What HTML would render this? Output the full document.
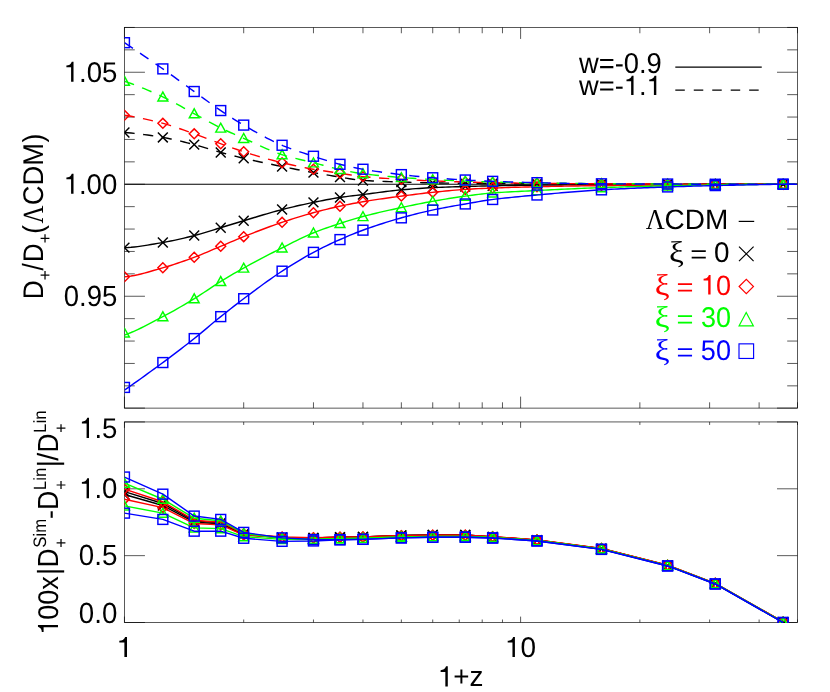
<!DOCTYPE html>
<html><head><meta charset="utf-8"><title>D+ ratio</title>
<style>html,body{margin:0;padding:0;background:#fff}svg{display:block;will-change:transform}text{font-family:"Liberation Sans",sans-serif;fill:#000;font-kerning:none;text-rendering:geometricPrecision}.g{font-family:"Liberation Serif",serif}</style></head><body>
<svg width="830" height="692" viewBox="0 0 830 692">
<rect width="830" height="692" fill="#fff"/>
<defs><clipPath id="ct"><rect x="124.45" y="27.45" width="673.05" height="380.65"/></clipPath><clipPath id="cb"><rect x="124.45" y="421.95" width="673.05" height="201.15"/></clipPath></defs>
<g fill="none">
<line x1="124.45" y1="27.45" x2="124.45" y2="38.95" stroke="#000" stroke-width="0.65" />
<line x1="124.45" y1="408.1" x2="124.45" y2="396.6" stroke="#000" stroke-width="0.65" />
<line x1="124.45" y1="421.95" x2="124.45" y2="427.85" stroke="#000" stroke-width="0.65" />
<line x1="124.45" y1="622.5" x2="124.45" y2="616.6" stroke="#000" stroke-width="0.65" />
<line x1="243.7" y1="27.45" x2="243.7" y2="33.25" stroke="#000" stroke-width="0.65" />
<line x1="243.7" y1="408.1" x2="243.7" y2="402.3" stroke="#000" stroke-width="0.65" />
<line x1="243.7" y1="421.95" x2="243.7" y2="424.95" stroke="#000" stroke-width="0.65" />
<line x1="243.7" y1="622.5" x2="243.7" y2="619.5" stroke="#000" stroke-width="0.65" />
<line x1="313.46" y1="27.45" x2="313.46" y2="33.25" stroke="#000" stroke-width="0.65" />
<line x1="313.46" y1="408.1" x2="313.46" y2="402.3" stroke="#000" stroke-width="0.65" />
<line x1="313.46" y1="421.95" x2="313.46" y2="424.95" stroke="#000" stroke-width="0.65" />
<line x1="313.46" y1="622.5" x2="313.46" y2="619.5" stroke="#000" stroke-width="0.65" />
<line x1="362.96" y1="27.45" x2="362.96" y2="33.25" stroke="#000" stroke-width="0.65" />
<line x1="362.96" y1="408.1" x2="362.96" y2="402.3" stroke="#000" stroke-width="0.65" />
<line x1="362.96" y1="421.95" x2="362.96" y2="424.95" stroke="#000" stroke-width="0.65" />
<line x1="362.96" y1="622.5" x2="362.96" y2="619.5" stroke="#000" stroke-width="0.65" />
<line x1="401.35" y1="27.45" x2="401.35" y2="33.25" stroke="#000" stroke-width="0.65" />
<line x1="401.35" y1="408.1" x2="401.35" y2="402.3" stroke="#000" stroke-width="0.65" />
<line x1="401.35" y1="421.95" x2="401.35" y2="424.95" stroke="#000" stroke-width="0.65" />
<line x1="401.35" y1="622.5" x2="401.35" y2="619.5" stroke="#000" stroke-width="0.65" />
<line x1="432.72" y1="27.45" x2="432.72" y2="33.25" stroke="#000" stroke-width="0.65" />
<line x1="432.72" y1="408.1" x2="432.72" y2="402.3" stroke="#000" stroke-width="0.65" />
<line x1="432.72" y1="421.95" x2="432.72" y2="424.95" stroke="#000" stroke-width="0.65" />
<line x1="432.72" y1="622.5" x2="432.72" y2="619.5" stroke="#000" stroke-width="0.65" />
<line x1="459.24" y1="27.45" x2="459.24" y2="33.25" stroke="#000" stroke-width="0.65" />
<line x1="459.24" y1="408.1" x2="459.24" y2="402.3" stroke="#000" stroke-width="0.65" />
<line x1="459.24" y1="421.95" x2="459.24" y2="424.95" stroke="#000" stroke-width="0.65" />
<line x1="459.24" y1="622.5" x2="459.24" y2="619.5" stroke="#000" stroke-width="0.65" />
<line x1="482.21" y1="27.45" x2="482.21" y2="33.25" stroke="#000" stroke-width="0.65" />
<line x1="482.21" y1="408.1" x2="482.21" y2="402.3" stroke="#000" stroke-width="0.65" />
<line x1="482.21" y1="421.95" x2="482.21" y2="424.95" stroke="#000" stroke-width="0.65" />
<line x1="482.21" y1="622.5" x2="482.21" y2="619.5" stroke="#000" stroke-width="0.65" />
<line x1="502.47" y1="27.45" x2="502.47" y2="33.25" stroke="#000" stroke-width="0.65" />
<line x1="502.47" y1="408.1" x2="502.47" y2="402.3" stroke="#000" stroke-width="0.65" />
<line x1="502.47" y1="421.95" x2="502.47" y2="424.95" stroke="#000" stroke-width="0.65" />
<line x1="502.47" y1="622.5" x2="502.47" y2="619.5" stroke="#000" stroke-width="0.65" />
<line x1="520.6" y1="27.45" x2="520.6" y2="38.95" stroke="#000" stroke-width="0.65" />
<line x1="520.6" y1="408.1" x2="520.6" y2="396.6" stroke="#000" stroke-width="0.65" />
<line x1="520.6" y1="421.95" x2="520.6" y2="427.85" stroke="#000" stroke-width="0.65" />
<line x1="520.6" y1="622.5" x2="520.6" y2="616.6" stroke="#000" stroke-width="0.65" />
<line x1="639.86" y1="27.45" x2="639.86" y2="33.25" stroke="#000" stroke-width="0.65" />
<line x1="639.86" y1="408.1" x2="639.86" y2="402.3" stroke="#000" stroke-width="0.65" />
<line x1="639.86" y1="421.95" x2="639.86" y2="424.95" stroke="#000" stroke-width="0.65" />
<line x1="639.86" y1="622.5" x2="639.86" y2="619.5" stroke="#000" stroke-width="0.65" />
<line x1="709.61" y1="27.45" x2="709.61" y2="33.25" stroke="#000" stroke-width="0.65" />
<line x1="709.61" y1="408.1" x2="709.61" y2="402.3" stroke="#000" stroke-width="0.65" />
<line x1="709.61" y1="421.95" x2="709.61" y2="424.95" stroke="#000" stroke-width="0.65" />
<line x1="709.61" y1="622.5" x2="709.61" y2="619.5" stroke="#000" stroke-width="0.65" />
<line x1="759.11" y1="27.45" x2="759.11" y2="33.25" stroke="#000" stroke-width="0.65" />
<line x1="759.11" y1="408.1" x2="759.11" y2="402.3" stroke="#000" stroke-width="0.65" />
<line x1="759.11" y1="421.95" x2="759.11" y2="424.95" stroke="#000" stroke-width="0.65" />
<line x1="759.11" y1="622.5" x2="759.11" y2="619.5" stroke="#000" stroke-width="0.65" />
<line x1="797.5" y1="27.45" x2="797.5" y2="33.25" stroke="#000" stroke-width="0.65" />
<line x1="797.5" y1="408.1" x2="797.5" y2="402.3" stroke="#000" stroke-width="0.65" />
<line x1="797.5" y1="421.95" x2="797.5" y2="424.95" stroke="#000" stroke-width="0.65" />
<line x1="797.5" y1="622.5" x2="797.5" y2="619.5" stroke="#000" stroke-width="0.65" />
<line x1="124.45" y1="408.1" x2="144.95" y2="408.1" stroke="#000" stroke-width="0.65" />
<line x1="797.5" y1="408.1" x2="777" y2="408.1" stroke="#000" stroke-width="0.65" />
<line x1="124.45" y1="385.85" x2="134.75" y2="385.85" stroke="#000" stroke-width="0.65" />
<line x1="797.5" y1="385.85" x2="787.2" y2="385.85" stroke="#000" stroke-width="0.65" />
<line x1="124.45" y1="363.45" x2="134.75" y2="363.45" stroke="#000" stroke-width="0.65" />
<line x1="797.5" y1="363.45" x2="787.2" y2="363.45" stroke="#000" stroke-width="0.65" />
<line x1="124.45" y1="341.05" x2="134.75" y2="341.05" stroke="#000" stroke-width="0.65" />
<line x1="797.5" y1="341.05" x2="787.2" y2="341.05" stroke="#000" stroke-width="0.65" />
<line x1="124.45" y1="318.65" x2="134.75" y2="318.65" stroke="#000" stroke-width="0.65" />
<line x1="797.5" y1="318.65" x2="787.2" y2="318.65" stroke="#000" stroke-width="0.65" />
<line x1="124.45" y1="296.25" x2="144.95" y2="296.25" stroke="#000" stroke-width="0.65" />
<line x1="797.5" y1="296.25" x2="777" y2="296.25" stroke="#000" stroke-width="0.65" />
<line x1="124.45" y1="273.85" x2="134.75" y2="273.85" stroke="#000" stroke-width="0.65" />
<line x1="797.5" y1="273.85" x2="787.2" y2="273.85" stroke="#000" stroke-width="0.65" />
<line x1="124.45" y1="251.45" x2="134.75" y2="251.45" stroke="#000" stroke-width="0.65" />
<line x1="797.5" y1="251.45" x2="787.2" y2="251.45" stroke="#000" stroke-width="0.65" />
<line x1="124.45" y1="229.05" x2="134.75" y2="229.05" stroke="#000" stroke-width="0.65" />
<line x1="797.5" y1="229.05" x2="787.2" y2="229.05" stroke="#000" stroke-width="0.65" />
<line x1="124.45" y1="206.65" x2="134.75" y2="206.65" stroke="#000" stroke-width="0.65" />
<line x1="797.5" y1="206.65" x2="787.2" y2="206.65" stroke="#000" stroke-width="0.65" />
<line x1="124.45" y1="184.25" x2="144.95" y2="184.25" stroke="#000" stroke-width="0.65" />
<line x1="797.5" y1="184.25" x2="777" y2="184.25" stroke="#000" stroke-width="0.65" />
<line x1="124.45" y1="161.85" x2="134.75" y2="161.85" stroke="#000" stroke-width="0.65" />
<line x1="797.5" y1="161.85" x2="787.2" y2="161.85" stroke="#000" stroke-width="0.65" />
<line x1="124.45" y1="139.45" x2="134.75" y2="139.45" stroke="#000" stroke-width="0.65" />
<line x1="797.5" y1="139.45" x2="787.2" y2="139.45" stroke="#000" stroke-width="0.65" />
<line x1="124.45" y1="117.05" x2="134.75" y2="117.05" stroke="#000" stroke-width="0.65" />
<line x1="797.5" y1="117.05" x2="787.2" y2="117.05" stroke="#000" stroke-width="0.65" />
<line x1="124.45" y1="94.65" x2="134.75" y2="94.65" stroke="#000" stroke-width="0.65" />
<line x1="797.5" y1="94.65" x2="787.2" y2="94.65" stroke="#000" stroke-width="0.65" />
<line x1="124.45" y1="72.25" x2="144.95" y2="72.25" stroke="#000" stroke-width="0.65" />
<line x1="797.5" y1="72.25" x2="777" y2="72.25" stroke="#000" stroke-width="0.65" />
<line x1="124.45" y1="49.85" x2="134.75" y2="49.85" stroke="#000" stroke-width="0.65" />
<line x1="797.5" y1="49.85" x2="787.2" y2="49.85" stroke="#000" stroke-width="0.65" />
<line x1="124.45" y1="27.45" x2="134.75" y2="27.45" stroke="#000" stroke-width="0.65" />
<line x1="797.5" y1="27.45" x2="787.2" y2="27.45" stroke="#000" stroke-width="0.65" />
<line x1="124.45" y1="622.5" x2="144.95" y2="622.5" stroke="#000" stroke-width="0.65" />
<line x1="797.5" y1="622.5" x2="777" y2="622.5" stroke="#000" stroke-width="0.65" />
<line x1="124.45" y1="555.65" x2="144.95" y2="555.65" stroke="#000" stroke-width="0.65" />
<line x1="797.5" y1="555.65" x2="777" y2="555.65" stroke="#000" stroke-width="0.65" />
<line x1="124.45" y1="488.8" x2="144.95" y2="488.8" stroke="#000" stroke-width="0.65" />
<line x1="797.5" y1="488.8" x2="777" y2="488.8" stroke="#000" stroke-width="0.65" />
<line x1="124.45" y1="421.95" x2="144.95" y2="421.95" stroke="#000" stroke-width="0.65" />
<line x1="797.5" y1="421.95" x2="777" y2="421.95" stroke="#000" stroke-width="0.65" />
</g>
<rect x="124.45" y="27.45" width="673.05" height="380.65" fill="none" stroke="#000" stroke-width="0.65"/>
<rect x="124.45" y="421.95" width="673.05" height="200.55" fill="none" stroke="#000" stroke-width="0.65"/>
<g clip-path="url(#ct)" fill="none">
<line x1="124.45" y1="184.25" x2="797.5" y2="184.25" stroke="#000000" stroke-width="1.15" />
<path d="M124.45 247.64L127.76 247.52L131.07 247.3L134.38 246.99L137.69 246.61L141 246.16L144.31 245.67L147.62 245.13L150.93 244.57L154.24 243.99L157.55 243.41L160.86 242.83L164.17 242.26L167.48 241.66L170.79 241.01L174.1 240.33L177.41 239.6L180.72 238.85L184.03 238.07L187.34 237.27L190.65 236.44L193.96 235.61L197.27 234.74L200.58 233.82L203.89 232.85L207.2 231.86L210.51 230.84L213.82 229.82L217.13 228.8L220.44 227.79L223.75 226.8L227.06 225.8L230.37 224.79L233.68 223.78L236.99 222.78L240.3 221.78L243.61 220.79L246.92 219.8L250.23 218.8L253.54 217.79L256.85 216.79L260.16 215.78L263.47 214.79L266.78 213.81L270.09 212.84L273.4 211.9L276.71 210.98L280.02 210.1L283.33 209.25L286.64 208.42L289.95 207.61L293.26 206.82L296.57 206.05L299.88 205.3L303.19 204.57L306.5 203.85L309.81 203.15L313.12 202.46L316.43 201.79L319.74 201.12L323.05 200.46L326.36 199.82L329.67 199.2L332.98 198.61L336.29 198.05L339.6 197.52L342.91 197.04L346.22 196.6L349.53 196.17L352.85 195.77L356.16 195.38L359.47 194.98L362.78 194.58L366.09 194.16L369.4 193.73L372.71 193.29L376.02 192.84L379.33 192.4L382.64 191.97L385.95 191.55L389.26 191.14L392.57 190.75L395.88 190.39L399.19 190.05L402.5 189.75L405.81 189.46L409.12 189.18L412.43 188.91L415.74 188.66L419.05 188.42L422.36 188.19L425.67 187.99L428.98 187.8L432.29 187.63L435.6 187.48L438.91 187.34L442.22 187.21L445.53 187.09L448.84 186.98L452.15 186.88L455.46 186.77L458.77 186.68L462.08 186.58L465.39 186.49L468.7 186.39L472.01 186.3L475.32 186.21L478.63 186.13L481.94 186.05L485.25 185.97L488.56 185.9L491.87 185.83L495.18 185.77L498.49 185.71L501.8 185.65L505.11 185.59L508.42 185.53L511.73 185.48L515.04 185.43L518.35 185.38L521.66 185.33L524.97 185.28L528.28 185.24L531.59 185.2L534.9 185.17L538.21 185.13L541.52 185.1L544.83 185.07L548.14 185.04L551.45 185.02L554.76 184.99L558.07 184.96L561.38 184.94L564.69 184.91L568 184.89L571.31 184.87L574.62 184.84L577.93 184.82L581.24 184.8L584.55 184.78L587.86 184.77L591.17 184.75L594.48 184.73L597.79 184.72L601.1 184.7L604.41 184.68L607.72 184.67L611.03 184.66L614.34 184.65L617.65 184.63L620.96 184.62L624.27 184.61L627.58 184.6L630.89 184.59L634.2 184.58L637.51 184.57L640.82 184.56L644.13 184.55L647.44 184.54L650.75 184.53L654.06 184.52L657.37 184.51L660.68 184.5L663.99 184.49L667.3 184.48L670.61 184.46L673.92 184.44L677.23 184.43L680.54 184.41L683.85 184.39L687.16 184.36L690.47 184.34L693.78 184.32L697.09 184.31L700.4 184.29L703.71 184.27L707.02 184.26L710.33 184.25L713.64 184.25L716.95 184.25L720.26 184.25L723.57 184.25L726.88 184.25L730.19 184.25L733.5 184.25L736.81 184.25L740.12 184.25L743.43 184.25L746.74 184.25L750.05 184.25L753.36 184.25L756.67 184.25L759.98 184.25L763.29 184.25L766.6 184.25L769.91 184.25L773.22 184.25L776.53 184.25L779.84 184.25L783.15 184.25L797.5 184.25" stroke="#000000" stroke-width="1.42"/>
<path d="M119.5 242.69L129.4 252.59M119.5 252.59L129.4 242.69" fill="none" stroke="#000000" stroke-width="1.45"/>
<path d="M157.89 237.54L167.79 247.44M157.89 247.44L167.79 237.54" fill="none" stroke="#000000" stroke-width="1.45"/>
<path d="M189.26 230.6L199.16 240.5M189.26 240.5L199.16 230.6" fill="none" stroke="#000000" stroke-width="1.45"/>
<path d="M215.78 222.76L225.68 232.66M215.78 232.66L225.68 222.76" fill="none" stroke="#000000" stroke-width="1.45"/>
<path d="M238.75 215.81L248.65 225.71M238.75 225.71L248.65 215.81" fill="none" stroke="#000000" stroke-width="1.45"/>
<path d="M277.14 204.61L287.04 214.51M277.14 214.51L287.04 204.61" fill="none" stroke="#000000" stroke-width="1.45"/>
<path d="M308.51 197.44L318.41 207.34M308.51 207.34L318.41 197.44" fill="none" stroke="#000000" stroke-width="1.45"/>
<path d="M335.03 192.52L344.93 202.42M335.03 202.42L344.93 192.52" fill="none" stroke="#000000" stroke-width="1.45"/>
<path d="M358.01 189.6L367.91 199.5M358.01 199.5L367.91 189.6" fill="none" stroke="#000000" stroke-width="1.45"/>
<path d="M396.4 184.9L406.3 194.8M396.4 194.8L406.3 184.9" fill="none" stroke="#000000" stroke-width="1.45"/>
<path d="M427.77 182.66L437.67 192.56M427.77 192.56L437.67 182.66" fill="none" stroke="#000000" stroke-width="1.45"/>
<path d="M460.32 181.54L470.22 191.44M460.32 191.44L470.22 181.54" fill="none" stroke="#000000" stroke-width="1.45"/>
<path d="M487.69 180.87L497.59 190.77M487.69 190.77L497.59 180.87" fill="none" stroke="#000000" stroke-width="1.45"/>
<path d="M532.05 180.2L541.95 190.1M532.05 190.1L541.95 180.2" fill="none" stroke="#000000" stroke-width="1.45"/>
<path d="M596.51 179.75L606.41 189.65M596.51 189.65L606.41 179.75" fill="none" stroke="#000000" stroke-width="1.45"/>
<path d="M662.65 179.52L672.55 189.42M662.65 189.42L672.55 179.52" fill="none" stroke="#000000" stroke-width="1.45"/>
<path d="M710.31 179.3L720.21 189.2M710.31 189.2L720.21 179.3" fill="none" stroke="#000000" stroke-width="1.45"/>
<path d="M778.2 179.3L788.1 189.2M778.2 189.2L788.1 179.3" fill="none" stroke="#000000" stroke-width="1.45"/>
<path d="M124.45 132.51L127.76 132.77L131.07 133.07L134.38 133.41L137.69 133.78L141 134.18L144.31 134.61L147.62 135.07L150.93 135.55L154.24 136.05L157.55 136.57L160.86 137.11L164.17 137.66L167.48 138.27L170.79 138.93L174.1 139.64L177.41 140.39L180.72 141.18L184.03 142L187.34 142.83L190.65 143.68L193.96 144.54L197.27 145.43L200.58 146.38L203.89 147.37L207.2 148.39L210.51 149.42L213.82 150.44L217.13 151.43L220.44 152.36L223.75 153.26L227.06 154.13L230.37 154.99L233.68 155.83L236.99 156.65L240.3 157.46L243.61 158.24L246.92 159.02L250.23 159.77L253.54 160.52L256.85 161.25L260.16 161.97L263.47 162.68L266.78 163.39L270.09 164.08L273.4 164.77L276.71 165.45L280.02 166.13L283.33 166.81L286.64 167.47L289.95 168.13L293.26 168.79L296.57 169.44L299.88 170.08L303.19 170.71L306.5 171.33L309.81 171.94L313.12 172.54L316.43 173.13L319.74 173.72L323.05 174.29L326.36 174.86L329.67 175.41L332.98 175.96L336.29 176.5L339.6 177.02L342.91 177.56L346.22 178.13L349.53 178.7L352.85 179.24L356.16 179.73L359.47 180.13L362.78 180.43L366.09 180.64L369.4 180.83L372.71 181L376.02 181.15L379.33 181.28L382.64 181.4L385.95 181.52L389.26 181.63L392.57 181.73L395.88 181.83L399.19 181.94L402.5 182.05L405.81 182.16L409.12 182.27L412.43 182.37L415.74 182.48L419.05 182.58L422.36 182.67L425.67 182.75L428.98 182.83L432.29 182.9L435.6 182.96L438.91 183.01L442.22 183.07L445.53 183.12L448.84 183.16L452.15 183.21L455.46 183.25L458.77 183.28L462.08 183.32L465.39 183.36L468.7 183.39L472.01 183.42L475.32 183.45L478.63 183.48L481.94 183.5L485.25 183.53L488.56 183.55L491.87 183.57L495.18 183.59L498.49 183.61L501.8 183.63L505.11 183.65L508.42 183.67L511.73 183.69L515.04 183.7L518.35 183.72L521.66 183.73L524.97 183.75L528.28 183.76L531.59 183.78L534.9 183.79L538.21 183.81L541.52 183.82L544.83 183.83L548.14 183.85L551.45 183.86L554.76 183.87L558.07 183.88L561.38 183.89L564.69 183.9L568 183.92L571.31 183.93L574.62 183.94L577.93 183.95L581.24 183.96L584.55 183.97L587.86 183.98L591.17 183.99L594.48 184L597.79 184.01L601.1 184.02L604.41 184.04L607.72 184.05L611.03 184.06L614.34 184.08L617.65 184.09L620.96 184.11L624.27 184.12L627.58 184.14L630.89 184.15L634.2 184.16L637.51 184.18L640.82 184.19L644.13 184.2L647.44 184.21L650.75 184.22L654.06 184.23L657.37 184.24L660.68 184.25L663.99 184.25L667.3 184.25L670.61 184.25L673.92 184.25L677.23 184.25L680.54 184.25L683.85 184.25L687.16 184.25L690.47 184.25L693.78 184.25L697.09 184.25L700.4 184.25L703.71 184.25L707.02 184.25L710.33 184.25L713.64 184.25L716.95 184.25L720.26 184.25L723.57 184.25L726.88 184.25L730.19 184.25L733.5 184.25L736.81 184.25L740.12 184.25L743.43 184.25L746.74 184.25L750.05 184.25L753.36 184.25L756.67 184.25L759.98 184.25L763.29 184.25L766.6 184.25L769.91 184.25L773.22 184.25L776.53 184.25L779.84 184.25L783.15 184.25L797.5 184.25" stroke="#000000" stroke-width="1.42" stroke-dasharray="10.2 8.6"/>
<path d="M119.5 127.56L129.4 137.46M119.5 137.46L129.4 127.56" fill="none" stroke="#000000" stroke-width="1.45"/>
<path d="M157.89 132.48L167.79 142.38M157.89 142.38L167.79 132.48" fill="none" stroke="#000000" stroke-width="1.45"/>
<path d="M189.26 139.65L199.16 149.55M189.26 149.55L199.16 139.65" fill="none" stroke="#000000" stroke-width="1.45"/>
<path d="M215.78 147.49L225.68 157.39M215.78 157.39L225.68 147.49" fill="none" stroke="#000000" stroke-width="1.45"/>
<path d="M238.75 153.32L248.65 163.22M238.75 163.22L248.65 153.32" fill="none" stroke="#000000" stroke-width="1.45"/>
<path d="M277.14 161.6L287.04 171.5M277.14 171.5L287.04 161.6" fill="none" stroke="#000000" stroke-width="1.45"/>
<path d="M308.51 167.65L318.41 177.55M308.51 177.55L318.41 167.65" fill="none" stroke="#000000" stroke-width="1.45"/>
<path d="M335.03 172.13L344.93 182.03M335.03 182.03L344.93 172.13" fill="none" stroke="#000000" stroke-width="1.45"/>
<path d="M358.01 175.49L367.91 185.39M358.01 185.39L367.91 175.49" fill="none" stroke="#000000" stroke-width="1.45"/>
<path d="M396.4 177.06L406.3 186.96M396.4 186.96L406.3 177.06" fill="none" stroke="#000000" stroke-width="1.45"/>
<path d="M427.77 177.96L437.67 187.86M427.77 187.86L437.67 177.96" fill="none" stroke="#000000" stroke-width="1.45"/>
<path d="M460.32 178.4L470.22 188.3M460.32 188.3L470.22 178.4" fill="none" stroke="#000000" stroke-width="1.45"/>
<path d="M487.69 178.63L497.59 188.53M487.69 188.53L497.59 178.63" fill="none" stroke="#000000" stroke-width="1.45"/>
<path d="M532.05 178.85L541.95 188.75M532.05 188.75L541.95 178.85" fill="none" stroke="#000000" stroke-width="1.45"/>
<path d="M596.51 179.08L606.41 188.98M596.51 188.98L606.41 179.08" fill="none" stroke="#000000" stroke-width="1.45"/>
<path d="M662.65 179.3L672.55 189.2M662.65 189.2L672.55 179.3" fill="none" stroke="#000000" stroke-width="1.45"/>
<path d="M710.31 179.3L720.21 189.2M710.31 189.2L720.21 179.3" fill="none" stroke="#000000" stroke-width="1.45"/>
<path d="M778.2 179.3L788.1 189.2M778.2 189.2L788.1 179.3" fill="none" stroke="#000000" stroke-width="1.45"/>
<path d="M124.45 276.76L127.76 276.47L131.07 276.04L134.38 275.46L137.69 274.78L141 273.99L144.31 273.14L147.62 272.22L150.93 271.27L154.24 270.29L157.55 269.32L160.86 268.36L164.17 267.43L167.48 266.46L170.79 265.45L174.1 264.39L177.41 263.29L180.72 262.15L184.03 260.99L187.34 259.8L190.65 258.59L193.96 257.37L197.27 256.11L200.58 254.79L203.89 253.44L207.2 252.05L210.51 250.64L213.82 249.22L217.13 247.81L220.44 246.42L223.75 245.03L227.06 243.62L230.37 242.21L233.68 240.8L236.99 239.41L240.3 238.04L243.61 236.7L246.92 235.39L250.23 234.09L253.54 232.79L256.85 231.51L260.16 230.24L263.47 228.99L266.78 227.75L270.09 226.54L273.4 225.34L276.71 224.17L280.02 223.03L283.33 221.91L286.64 220.82L289.95 219.74L293.26 218.68L296.57 217.64L299.88 216.62L303.19 215.62L306.5 214.65L309.81 213.71L313.12 212.79L316.43 211.9L319.74 211.03L323.05 210.18L326.36 209.36L329.67 208.55L332.98 207.77L336.29 207.02L339.6 206.28L342.91 205.57L346.22 204.88L349.53 204.21L352.85 203.56L356.16 202.93L359.47 202.33L362.78 201.75L366.09 201.2L369.4 200.67L372.71 200.15L376.02 199.65L379.33 199.16L382.64 198.68L385.95 198.21L389.26 197.75L392.57 197.3L395.88 196.85L399.19 196.41L402.5 195.97L405.81 195.54L409.12 195.11L412.43 194.68L415.74 194.26L419.05 193.86L422.36 193.46L425.67 193.08L428.98 192.71L432.29 192.36L435.6 192.02L438.91 191.68L442.22 191.35L445.53 191.02L448.84 190.71L452.15 190.41L455.46 190.12L458.77 189.86L462.08 189.62L465.39 189.39L468.7 189.19L472.01 189L475.32 188.83L478.63 188.66L481.94 188.51L485.25 188.36L488.56 188.22L491.87 188.09L495.18 187.96L498.49 187.84L501.8 187.72L505.11 187.61L508.42 187.5L511.73 187.39L515.04 187.29L518.35 187.19L521.66 187.1L524.97 187.01L528.28 186.92L531.59 186.84L534.9 186.76L538.21 186.69L541.52 186.61L544.83 186.54L548.14 186.47L551.45 186.41L554.76 186.34L558.07 186.28L561.38 186.22L564.69 186.16L568 186.1L571.31 186.04L574.62 185.99L577.93 185.93L581.24 185.88L584.55 185.83L587.86 185.78L591.17 185.73L594.48 185.69L597.79 185.64L601.1 185.6L604.41 185.56L607.72 185.52L611.03 185.48L614.34 185.44L617.65 185.4L620.96 185.37L624.27 185.33L627.58 185.3L630.89 185.27L634.2 185.24L637.51 185.2L640.82 185.17L644.13 185.14L647.44 185.11L650.75 185.08L654.06 185.05L657.37 185.02L660.68 184.99L663.99 184.96L667.3 184.92L670.61 184.89L673.92 184.86L677.23 184.82L680.54 184.79L683.85 184.75L687.16 184.72L690.47 184.68L693.78 184.65L697.09 184.61L700.4 184.58L703.71 184.55L707.02 184.53L710.33 184.5L713.64 184.48L716.95 184.47L720.26 184.45L723.57 184.43L726.88 184.42L730.19 184.4L733.5 184.39L736.81 184.37L740.12 184.36L743.43 184.34L746.74 184.33L750.05 184.32L753.36 184.3L756.67 184.29L759.98 184.28L763.29 184.28L766.6 184.27L769.91 184.26L773.22 184.26L776.53 184.25L779.84 184.25L783.15 184.25L797.5 184.25" stroke="#ff0000" stroke-width="1.42"/>
<path d="M119.5 276.76L124.45 271.81L129.4 276.76L124.45 281.71Z" fill="none" stroke="#ff0000" stroke-width="1.45"/>
<path d="M157.89 267.8L162.84 262.85L167.79 267.8L162.84 272.75Z" fill="none" stroke="#ff0000" stroke-width="1.45"/>
<path d="M189.26 257.27L194.21 252.32L199.16 257.27L194.21 262.22Z" fill="none" stroke="#ff0000" stroke-width="1.45"/>
<path d="M215.78 246.3L220.73 241.35L225.68 246.3L220.73 251.25Z" fill="none" stroke="#ff0000" stroke-width="1.45"/>
<path d="M238.75 236.67L243.7 231.72L248.65 236.67L243.7 241.62Z" fill="none" stroke="#ff0000" stroke-width="1.45"/>
<path d="M277.14 222.33L282.09 217.38L287.04 222.33L282.09 227.28Z" fill="none" stroke="#ff0000" stroke-width="1.45"/>
<path d="M308.51 212.7L313.46 207.75L318.41 212.7L313.46 217.65Z" fill="none" stroke="#ff0000" stroke-width="1.45"/>
<path d="M335.03 206.2L339.98 201.25L344.93 206.2L339.98 211.15Z" fill="none" stroke="#ff0000" stroke-width="1.45"/>
<path d="M358.01 201.72L362.96 196.77L367.91 201.72L362.96 206.67Z" fill="none" stroke="#ff0000" stroke-width="1.45"/>
<path d="M396.4 196.12L401.35 191.17L406.3 196.12L401.35 201.07Z" fill="none" stroke="#ff0000" stroke-width="1.45"/>
<path d="M427.77 192.31L432.72 187.36L437.67 192.31L432.72 197.26Z" fill="none" stroke="#ff0000" stroke-width="1.45"/>
<path d="M460.32 189.4L465.27 184.45L470.22 189.4L465.27 194.35Z" fill="none" stroke="#ff0000" stroke-width="1.45"/>
<path d="M487.69 188.06L492.64 183.11L497.59 188.06L492.64 193.01Z" fill="none" stroke="#ff0000" stroke-width="1.45"/>
<path d="M532.05 186.71L537 181.76L541.95 186.71L537 191.66Z" fill="none" stroke="#ff0000" stroke-width="1.45"/>
<path d="M596.51 185.59L601.46 180.64L606.41 185.59L601.46 190.54Z" fill="none" stroke="#ff0000" stroke-width="1.45"/>
<path d="M662.65 184.92L667.6 179.97L672.55 184.92L667.6 189.87Z" fill="none" stroke="#ff0000" stroke-width="1.45"/>
<path d="M710.31 184.47L715.26 179.52L720.21 184.47L715.26 189.42Z" fill="none" stroke="#ff0000" stroke-width="1.45"/>
<path d="M778.2 184.25L783.15 179.3L788.1 184.25L783.15 189.2Z" fill="none" stroke="#ff0000" stroke-width="1.45"/>
<path d="M124.45 115.26L127.76 115.75L131.07 116.29L134.38 116.87L137.69 117.5L141 118.16L144.31 118.86L147.62 119.59L150.93 120.36L154.24 121.15L157.55 121.97L160.86 122.81L164.17 123.68L167.48 124.62L170.79 125.63L174.1 126.71L177.41 127.83L180.72 129L184.03 130.18L187.34 131.38L190.65 132.58L193.96 133.76L197.27 134.95L200.58 136.16L203.89 137.4L207.2 138.65L210.51 139.91L213.82 141.16L217.13 142.39L220.44 143.6L223.75 144.8L227.06 146L230.37 147.2L233.68 148.38L236.99 149.54L240.3 150.66L243.61 151.74L246.92 152.79L250.23 153.82L253.54 154.85L256.85 155.85L260.16 156.84L263.47 157.8L266.78 158.75L270.09 159.66L273.4 160.55L276.71 161.42L280.02 162.24L283.33 163.04L286.64 163.81L289.95 164.56L293.26 165.29L296.57 166L299.88 166.68L303.19 167.34L306.5 167.98L309.81 168.59L313.12 169.18L316.43 169.75L319.74 170.28L323.05 170.8L326.36 171.29L329.67 171.77L332.98 172.25L336.29 172.73L339.6 173.22L342.91 173.72L346.22 174.26L349.53 174.79L352.85 175.32L356.16 175.81L359.47 176.25L362.78 176.62L366.09 176.93L369.4 177.22L372.71 177.49L376.02 177.74L379.33 177.98L382.64 178.2L385.95 178.41L389.26 178.62L392.57 178.81L395.88 179.01L399.19 179.2L402.5 179.39L405.81 179.58L409.12 179.76L412.43 179.94L415.74 180.11L419.05 180.27L422.36 180.43L425.67 180.59L428.98 180.73L432.29 180.87L435.6 181.01L438.91 181.13L442.22 181.26L445.53 181.38L448.84 181.49L452.15 181.61L455.46 181.71L458.77 181.82L462.08 181.92L465.39 182.01L468.7 182.11L472.01 182.2L475.32 182.29L478.63 182.37L481.94 182.45L485.25 182.53L488.56 182.6L491.87 182.67L495.18 182.73L498.49 182.79L501.8 182.85L505.11 182.91L508.42 182.97L511.73 183.02L515.04 183.07L518.35 183.12L521.66 183.17L524.97 183.22L528.28 183.26L531.59 183.3L534.9 183.33L538.21 183.37L541.52 183.4L544.83 183.43L548.14 183.46L551.45 183.48L554.76 183.51L558.07 183.54L561.38 183.56L564.69 183.59L568 183.61L571.31 183.63L574.62 183.66L577.93 183.68L581.24 183.7L584.55 183.72L587.86 183.73L591.17 183.75L594.48 183.77L597.79 183.78L601.1 183.8L604.41 183.82L607.72 183.83L611.03 183.84L614.34 183.85L617.65 183.87L620.96 183.88L624.27 183.89L627.58 183.9L630.89 183.91L634.2 183.92L637.51 183.93L640.82 183.94L644.13 183.95L647.44 183.96L650.75 183.97L654.06 183.98L657.37 183.99L660.68 184L663.99 184.01L667.3 184.02L670.61 184.04L673.92 184.06L677.23 184.07L680.54 184.09L683.85 184.11L687.16 184.14L690.47 184.16L693.78 184.18L697.09 184.19L700.4 184.21L703.71 184.23L707.02 184.24L710.33 184.25L713.64 184.25L716.95 184.25L720.26 184.25L723.57 184.25L726.88 184.25L730.19 184.25L733.5 184.25L736.81 184.25L740.12 184.25L743.43 184.25L746.74 184.25L750.05 184.25L753.36 184.25L756.67 184.25L759.98 184.25L763.29 184.25L766.6 184.25L769.91 184.25L773.22 184.25L776.53 184.25L779.84 184.25L783.15 184.25L797.5 184.25" stroke="#ff0000" stroke-width="1.42" stroke-dasharray="10.2 8.6"/>
<path d="M119.5 115.26L124.45 110.31L129.4 115.26L124.45 120.21Z" fill="none" stroke="#ff0000" stroke-width="1.45"/>
<path d="M157.89 123.32L162.84 118.37L167.79 123.32L162.84 128.27Z" fill="none" stroke="#ff0000" stroke-width="1.45"/>
<path d="M189.26 133.85L194.21 128.9L199.16 133.85L194.21 138.8Z" fill="none" stroke="#ff0000" stroke-width="1.45"/>
<path d="M215.78 143.71L220.73 138.76L225.68 143.71L220.73 148.66Z" fill="none" stroke="#ff0000" stroke-width="1.45"/>
<path d="M238.75 151.77L243.7 146.82L248.65 151.77L243.7 156.72Z" fill="none" stroke="#ff0000" stroke-width="1.45"/>
<path d="M277.14 162.75L282.09 157.8L287.04 162.75L282.09 167.7Z" fill="none" stroke="#ff0000" stroke-width="1.45"/>
<path d="M308.51 169.24L313.46 164.29L318.41 169.24L313.46 174.19Z" fill="none" stroke="#ff0000" stroke-width="1.45"/>
<path d="M335.03 173.27L339.98 168.32L344.93 173.27L339.98 178.22Z" fill="none" stroke="#ff0000" stroke-width="1.45"/>
<path d="M358.01 176.63L362.96 171.68L367.91 176.63L362.96 181.58Z" fill="none" stroke="#ff0000" stroke-width="1.45"/>
<path d="M396.4 179.32L401.35 174.37L406.3 179.32L401.35 184.27Z" fill="none" stroke="#ff0000" stroke-width="1.45"/>
<path d="M427.77 180.89L432.72 175.94L437.67 180.89L432.72 185.84Z" fill="none" stroke="#ff0000" stroke-width="1.45"/>
<path d="M460.32 182.01L465.27 177.06L470.22 182.01L465.27 186.96Z" fill="none" stroke="#ff0000" stroke-width="1.45"/>
<path d="M487.69 182.68L492.64 177.73L497.59 182.68L492.64 187.63Z" fill="none" stroke="#ff0000" stroke-width="1.45"/>
<path d="M532.05 183.35L537 178.4L541.95 183.35L537 188.3Z" fill="none" stroke="#ff0000" stroke-width="1.45"/>
<path d="M596.51 183.8L601.46 178.85L606.41 183.8L601.46 188.75Z" fill="none" stroke="#ff0000" stroke-width="1.45"/>
<path d="M662.65 184.03L667.6 179.08L672.55 184.03L667.6 188.98Z" fill="none" stroke="#ff0000" stroke-width="1.45"/>
<path d="M710.31 184.25L715.26 179.3L720.21 184.25L715.26 189.2Z" fill="none" stroke="#ff0000" stroke-width="1.45"/>
<path d="M778.2 184.25L783.15 179.3L788.1 184.25L783.15 189.2Z" fill="none" stroke="#ff0000" stroke-width="1.45"/>
<path d="M124.45 335L127.76 333.81L131.07 332.5L134.38 331.08L137.69 329.57L141 327.99L144.31 326.35L147.62 324.66L150.93 322.93L154.24 321.18L157.55 319.42L160.86 317.67L164.17 315.94L167.48 314.17L170.79 312.37L174.1 310.53L177.41 308.65L180.72 306.75L184.03 304.81L187.34 302.85L190.65 300.87L193.96 298.86L197.27 296.81L200.58 294.68L203.89 292.5L207.2 290.29L210.51 288.07L213.82 285.88L217.13 283.73L220.44 281.64L223.75 279.62L227.06 277.62L230.37 275.66L233.68 273.72L236.99 271.81L240.3 269.93L243.61 268.08L246.92 266.25L250.23 264.44L253.54 262.64L256.85 260.87L260.16 259.12L263.47 257.38L266.78 255.65L270.09 253.95L273.4 252.25L276.71 250.57L280.02 248.9L283.33 247.25L286.64 245.58L289.95 243.9L293.26 242.24L296.57 240.59L299.88 238.97L303.19 237.38L306.5 235.86L309.81 234.39L313.12 233L316.43 231.68L319.74 230.41L323.05 229.19L326.36 228.01L329.67 226.87L332.98 225.75L336.29 224.66L339.6 223.57L342.91 222.5L346.22 221.44L349.53 220.4L352.85 219.39L356.16 218.41L359.47 217.46L362.78 216.55L366.09 215.68L369.4 214.84L372.71 214.02L376.02 213.22L379.33 212.43L382.64 211.67L385.95 210.92L389.26 210.18L392.57 209.45L395.88 208.73L399.19 208.01L402.5 207.3L405.81 206.59L409.12 205.89L412.43 205.2L415.74 204.52L419.05 203.86L422.36 203.2L425.67 202.57L428.98 201.95L432.29 201.35L435.6 200.77L438.91 200.19L442.22 199.63L445.53 199.08L448.84 198.54L452.15 198.02L455.46 197.51L458.77 197.02L462.08 196.56L465.39 196.11L468.7 195.67L472.01 195.24L475.32 194.81L478.63 194.4L481.94 194.02L485.25 193.66L488.56 193.33L491.87 193.05L495.18 192.8L498.49 192.56L501.8 192.35L505.11 192.14L508.42 191.95L511.73 191.77L515.04 191.59L518.35 191.43L521.66 191.26L524.97 191.1L528.28 190.95L531.59 190.79L534.9 190.63L538.21 190.46L541.52 190.3L544.83 190.13L548.14 189.96L551.45 189.8L554.76 189.63L558.07 189.47L561.38 189.31L564.69 189.15L568 188.99L571.31 188.84L574.62 188.69L577.93 188.54L581.24 188.39L584.55 188.25L587.86 188.12L591.17 187.99L594.48 187.86L597.79 187.74L601.1 187.62L604.41 187.51L607.72 187.4L611.03 187.3L614.34 187.19L617.65 187.09L620.96 186.99L624.27 186.9L627.58 186.81L630.89 186.71L634.2 186.62L637.51 186.54L640.82 186.45L644.13 186.37L647.44 186.29L650.75 186.2L654.06 186.13L657.37 186.05L660.68 185.97L663.99 185.9L667.3 185.82L670.61 185.75L673.92 185.68L677.23 185.61L680.54 185.54L683.85 185.47L687.16 185.4L690.47 185.34L693.78 185.27L697.09 185.21L700.4 185.15L703.71 185.1L707.02 185.04L710.33 184.99L713.64 184.94L716.95 184.9L720.26 184.86L723.57 184.81L726.88 184.77L730.19 184.73L733.5 184.69L736.81 184.65L740.12 184.61L743.43 184.58L746.74 184.54L750.05 184.5L753.36 184.47L756.67 184.44L759.98 184.41L763.29 184.38L766.6 184.35L769.91 184.33L773.22 184.31L776.53 184.29L779.84 184.27L783.15 184.25L797.5 184.25" stroke="#00ff00" stroke-width="1.42"/>
<path d="M119.5 337.09L124.45 328.14L129.4 337.09Z" fill="none" stroke="#00ff00" stroke-width="1.45" stroke-linejoin="miter"/>
<path d="M157.89 320.74L162.84 311.78L167.79 320.74Z" fill="none" stroke="#00ff00" stroke-width="1.45" stroke-linejoin="miter"/>
<path d="M189.26 302.82L194.21 293.86L199.16 302.82Z" fill="none" stroke="#00ff00" stroke-width="1.45" stroke-linejoin="miter"/>
<path d="M215.78 285.57L220.73 276.62L225.68 285.57Z" fill="none" stroke="#00ff00" stroke-width="1.45" stroke-linejoin="miter"/>
<path d="M238.75 272.13L243.7 263.17L248.65 272.13Z" fill="none" stroke="#00ff00" stroke-width="1.45" stroke-linejoin="miter"/>
<path d="M277.14 251.97L282.09 243.01L287.04 251.97Z" fill="none" stroke="#00ff00" stroke-width="1.45" stroke-linejoin="miter"/>
<path d="M308.51 236.97L313.46 228.01L318.41 236.97Z" fill="none" stroke="#00ff00" stroke-width="1.45" stroke-linejoin="miter"/>
<path d="M335.03 227.56L339.98 218.6L344.93 227.56Z" fill="none" stroke="#00ff00" stroke-width="1.45" stroke-linejoin="miter"/>
<path d="M358.01 220.61L362.96 211.65L367.91 220.61Z" fill="none" stroke="#00ff00" stroke-width="1.45" stroke-linejoin="miter"/>
<path d="M396.4 211.65L401.35 202.69L406.3 211.65Z" fill="none" stroke="#00ff00" stroke-width="1.45" stroke-linejoin="miter"/>
<path d="M427.77 205.38L432.72 196.42L437.67 205.38Z" fill="none" stroke="#00ff00" stroke-width="1.45" stroke-linejoin="miter"/>
<path d="M460.32 200.23L465.27 191.27L470.22 200.23Z" fill="none" stroke="#00ff00" stroke-width="1.45" stroke-linejoin="miter"/>
<path d="M487.69 197.09L492.64 188.14L497.59 197.09Z" fill="none" stroke="#00ff00" stroke-width="1.45" stroke-linejoin="miter"/>
<path d="M532.05 194.63L537 185.67L541.95 194.63Z" fill="none" stroke="#00ff00" stroke-width="1.45" stroke-linejoin="miter"/>
<path d="M596.51 191.72L601.46 182.76L606.41 191.72Z" fill="none" stroke="#00ff00" stroke-width="1.45" stroke-linejoin="miter"/>
<path d="M662.65 189.93L667.6 180.97L672.55 189.93Z" fill="none" stroke="#00ff00" stroke-width="1.45" stroke-linejoin="miter"/>
<path d="M710.31 189.03L715.26 180.07L720.21 189.03Z" fill="none" stroke="#00ff00" stroke-width="1.45" stroke-linejoin="miter"/>
<path d="M778.2 188.36L783.15 179.4L788.1 188.36Z" fill="none" stroke="#00ff00" stroke-width="1.45" stroke-linejoin="miter"/>
<path d="M124.45 81.21L127.76 82.35L131.07 83.54L134.38 84.78L137.69 86.05L141 87.36L144.31 88.71L147.62 90.1L150.93 91.52L154.24 92.98L157.55 94.46L160.86 95.97L164.17 97.52L167.48 99.14L170.79 100.83L174.1 102.59L177.41 104.39L180.72 106.22L184.03 108.07L187.34 109.92L190.65 111.75L193.96 113.56L197.27 115.36L200.58 117.19L203.89 119.03L207.2 120.87L210.51 122.7L213.82 124.48L217.13 126.22L220.44 127.88L223.75 129.48L227.06 131.01L230.37 132.51L233.68 133.97L236.99 135.41L240.3 136.85L243.61 138.29L246.92 139.76L250.23 141.26L253.54 142.79L256.85 144.32L260.16 145.84L263.47 147.34L266.78 148.8L270.09 150.21L273.4 151.56L276.71 152.83L280.02 154L283.33 155.07L286.64 156.06L289.95 156.97L293.26 157.84L296.57 158.67L299.88 159.47L303.19 160.25L306.5 161.04L309.81 161.84L313.12 162.66L316.43 163.52L319.74 164.39L323.05 165.27L326.36 166.15L329.67 167.01L332.98 167.85L336.29 168.64L339.6 169.38L342.91 170.09L346.22 170.78L349.53 171.45L352.85 172.09L356.16 172.68L359.47 173.22L362.78 173.7L366.09 174.13L369.4 174.53L372.71 174.91L376.02 175.27L379.33 175.61L382.64 175.94L385.95 176.25L389.26 176.54L392.57 176.82L395.88 177.1L399.19 177.36L402.5 177.62L405.81 177.86L409.12 178.1L412.43 178.33L415.74 178.54L419.05 178.75L422.36 178.95L425.67 179.15L428.98 179.34L432.29 179.52L435.6 179.7L438.91 179.88L442.22 180.06L445.53 180.22L448.84 180.39L452.15 180.55L455.46 180.7L458.77 180.85L462.08 180.99L465.39 181.12L468.7 181.24L472.01 181.37L475.32 181.48L478.63 181.6L481.94 181.7L485.25 181.81L488.56 181.9L491.87 181.99L495.18 182.07L498.49 182.16L501.8 182.23L505.11 182.31L508.42 182.39L511.73 182.46L515.04 182.53L518.35 182.59L521.66 182.65L524.97 182.71L528.28 182.77L531.59 182.83L534.9 182.88L538.21 182.92L541.52 182.97L544.83 183.01L548.14 183.05L551.45 183.09L554.76 183.13L558.07 183.17L561.38 183.21L564.69 183.24L568 183.28L571.31 183.31L574.62 183.34L577.93 183.37L581.24 183.4L584.55 183.43L587.86 183.46L591.17 183.49L594.48 183.52L597.79 183.55L601.1 183.58L604.41 183.6L607.72 183.63L611.03 183.65L614.34 183.68L617.65 183.7L620.96 183.73L624.27 183.75L627.58 183.78L630.89 183.8L634.2 183.82L637.51 183.84L640.82 183.87L644.13 183.89L647.44 183.91L650.75 183.93L654.06 183.95L657.37 183.97L660.68 183.99L663.99 184.01L667.3 184.02L670.61 184.04L673.92 184.06L677.23 184.08L680.54 184.1L683.85 184.13L687.16 184.15L690.47 184.17L693.78 184.18L697.09 184.2L700.4 184.22L703.71 184.23L707.02 184.24L710.33 184.25L713.64 184.25L716.95 184.25L720.26 184.25L723.57 184.25L726.88 184.25L730.19 184.25L733.5 184.25L736.81 184.25L740.12 184.25L743.43 184.25L746.74 184.25L750.05 184.25L753.36 184.25L756.67 184.25L759.98 184.25L763.29 184.25L766.6 184.25L769.91 184.25L773.22 184.25L776.53 184.25L779.84 184.25L783.15 184.25L797.5 184.25" stroke="#00ff00" stroke-width="1.42" stroke-dasharray="10.2 8.6"/>
<path d="M119.5 85.32L124.45 76.36L129.4 85.32Z" fill="none" stroke="#00ff00" stroke-width="1.45" stroke-linejoin="miter"/>
<path d="M157.89 101L162.84 92.04L167.79 101Z" fill="none" stroke="#00ff00" stroke-width="1.45" stroke-linejoin="miter"/>
<path d="M189.26 117.8L194.21 108.84L199.16 117.8Z" fill="none" stroke="#00ff00" stroke-width="1.45" stroke-linejoin="miter"/>
<path d="M215.78 132.13L220.73 123.18L225.68 132.13Z" fill="none" stroke="#00ff00" stroke-width="1.45" stroke-linejoin="miter"/>
<path d="M238.75 142.44L243.7 133.48L248.65 142.44Z" fill="none" stroke="#00ff00" stroke-width="1.45" stroke-linejoin="miter"/>
<path d="M277.14 158.79L282.09 149.83L287.04 158.79Z" fill="none" stroke="#00ff00" stroke-width="1.45" stroke-linejoin="miter"/>
<path d="M308.51 166.85L313.46 157.89L318.41 166.85Z" fill="none" stroke="#00ff00" stroke-width="1.45" stroke-linejoin="miter"/>
<path d="M335.03 173.57L339.98 164.62L344.93 173.57Z" fill="none" stroke="#00ff00" stroke-width="1.45" stroke-linejoin="miter"/>
<path d="M358.01 177.83L362.96 168.87L367.91 177.83Z" fill="none" stroke="#00ff00" stroke-width="1.45" stroke-linejoin="miter"/>
<path d="M396.4 181.64L401.35 172.68L406.3 181.64Z" fill="none" stroke="#00ff00" stroke-width="1.45" stroke-linejoin="miter"/>
<path d="M427.77 183.65L432.72 174.7L437.67 183.65Z" fill="none" stroke="#00ff00" stroke-width="1.45" stroke-linejoin="miter"/>
<path d="M460.32 185.22L465.27 176.26L470.22 185.22Z" fill="none" stroke="#00ff00" stroke-width="1.45" stroke-linejoin="miter"/>
<path d="M487.69 186.12L492.64 177.16L497.59 186.12Z" fill="none" stroke="#00ff00" stroke-width="1.45" stroke-linejoin="miter"/>
<path d="M532.05 187.01L537 178.06L541.95 187.01Z" fill="none" stroke="#00ff00" stroke-width="1.45" stroke-linejoin="miter"/>
<path d="M596.51 187.69L601.46 178.73L606.41 187.69Z" fill="none" stroke="#00ff00" stroke-width="1.45" stroke-linejoin="miter"/>
<path d="M662.65 188.13L667.6 179.18L672.55 188.13Z" fill="none" stroke="#00ff00" stroke-width="1.45" stroke-linejoin="miter"/>
<path d="M710.31 188.36L715.26 179.4L720.21 188.36Z" fill="none" stroke="#00ff00" stroke-width="1.45" stroke-linejoin="miter"/>
<path d="M778.2 188.36L783.15 179.4L788.1 188.36Z" fill="none" stroke="#00ff00" stroke-width="1.45" stroke-linejoin="miter"/>
<path d="M124.45 390.11L127.76 387.81L131.07 385.49L134.38 383.16L137.69 380.82L141 378.46L144.31 376.09L147.62 373.7L150.93 371.3L154.24 368.88L157.55 366.46L160.86 364.02L164.17 361.57L167.48 359.11L170.79 356.63L174.1 354.14L177.41 351.63L180.72 349.11L184.03 346.56L187.34 343.99L190.65 341.4L193.96 338.78L197.27 336.12L200.58 333.4L203.89 330.64L207.2 327.86L210.51 325.07L213.82 322.3L217.13 319.56L220.44 316.87L223.75 314.21L227.06 311.58L230.37 308.97L233.68 306.38L236.99 303.82L240.3 301.28L243.61 298.78L246.92 296.3L250.23 293.82L253.54 291.35L256.85 288.9L260.16 286.46L263.47 284.05L266.78 281.67L270.09 279.32L273.4 277.01L276.71 274.74L280.02 272.52L283.33 270.36L286.64 268.22L289.95 266.12L293.26 264.05L296.57 262.02L299.88 260.02L303.19 258.08L306.5 256.17L309.81 254.32L313.12 252.53L316.43 250.78L319.74 249.09L323.05 247.44L326.36 245.83L329.67 244.26L332.98 242.73L336.29 241.22L339.6 239.75L342.91 238.29L346.22 236.86L349.53 235.45L352.85 234.09L356.16 232.75L359.47 231.47L362.78 230.24L366.09 229.04L369.4 227.88L372.71 226.73L376.02 225.62L379.33 224.52L382.64 223.45L385.95 222.41L389.26 221.39L392.57 220.39L395.88 219.41L399.19 218.46L402.5 217.53L405.81 216.62L409.12 215.72L412.43 214.85L415.74 214L419.05 213.17L422.36 212.36L425.67 211.58L428.98 210.83L432.29 210.1L435.6 209.41L438.91 208.74L442.22 208.09L445.53 207.46L448.84 206.85L452.15 206.26L455.46 205.67L458.77 205.09L462.08 204.52L465.39 203.94L468.7 203.36L472.01 202.78L475.32 202.19L478.63 201.62L481.94 201.06L485.25 200.53L488.56 200.04L491.87 199.58L495.18 199.16L498.49 198.77L501.8 198.39L505.11 198.03L508.42 197.68L511.73 197.34L515.04 197.01L518.35 196.7L521.66 196.39L524.97 196.08L528.28 195.78L531.59 195.49L534.9 195.19L538.21 194.89L541.52 194.6L544.83 194.3L548.14 194L551.45 193.7L554.76 193.41L558.07 193.12L561.38 192.83L564.69 192.54L568 192.26L571.31 191.99L574.62 191.72L577.93 191.46L581.24 191.2L584.55 190.96L587.86 190.72L591.17 190.49L594.48 190.27L597.79 190.07L601.1 189.87L604.41 189.68L607.72 189.5L611.03 189.33L614.34 189.16L617.65 188.99L620.96 188.83L624.27 188.67L627.58 188.51L630.89 188.37L634.2 188.22L637.51 188.08L640.82 187.94L644.13 187.8L647.44 187.67L650.75 187.54L654.06 187.42L657.37 187.3L660.68 187.18L663.99 187.06L667.3 186.95L670.61 186.84L673.92 186.73L677.23 186.62L680.54 186.52L683.85 186.42L687.16 186.32L690.47 186.23L693.78 186.14L697.09 186.05L700.4 185.96L703.71 185.88L707.02 185.79L710.33 185.71L713.64 185.63L716.95 185.55L720.26 185.48L723.57 185.4L726.88 185.33L730.19 185.25L733.5 185.18L736.81 185.11L740.12 185.04L743.43 184.97L746.74 184.9L750.05 184.83L753.36 184.77L756.67 184.7L759.98 184.64L763.29 184.58L766.6 184.52L769.91 184.46L773.22 184.41L776.53 184.35L779.84 184.3L783.15 184.25L797.5 184.25" stroke="#0000ff" stroke-width="1.42"/>
<rect x="119.5" y="382.47" width="9.9" height="9.9" fill="none" stroke="#0000ff" stroke-width="1.45"/>
<rect x="157.89" y="357.6" width="9.9" height="9.9" fill="none" stroke="#0000ff" stroke-width="1.45"/>
<rect x="189.26" y="333.64" width="9.9" height="9.9" fill="none" stroke="#0000ff" stroke-width="1.45"/>
<rect x="215.78" y="311.68" width="9.9" height="9.9" fill="none" stroke="#0000ff" stroke-width="1.45"/>
<rect x="238.75" y="293.76" width="9.9" height="9.9" fill="none" stroke="#0000ff" stroke-width="1.45"/>
<rect x="277.14" y="266.21" width="9.9" height="9.9" fill="none" stroke="#0000ff" stroke-width="1.45"/>
<rect x="308.51" y="247.4" width="9.9" height="9.9" fill="none" stroke="#0000ff" stroke-width="1.45"/>
<rect x="335.03" y="234.63" width="9.9" height="9.9" fill="none" stroke="#0000ff" stroke-width="1.45"/>
<rect x="358.01" y="225.22" width="9.9" height="9.9" fill="none" stroke="#0000ff" stroke-width="1.45"/>
<rect x="396.4" y="212.9" width="9.9" height="9.9" fill="none" stroke="#0000ff" stroke-width="1.45"/>
<rect x="427.77" y="205.06" width="9.9" height="9.9" fill="none" stroke="#0000ff" stroke-width="1.45"/>
<rect x="460.32" y="199.01" width="9.9" height="9.9" fill="none" stroke="#0000ff" stroke-width="1.45"/>
<rect x="487.69" y="194.53" width="9.9" height="9.9" fill="none" stroke="#0000ff" stroke-width="1.45"/>
<rect x="532.05" y="190.05" width="9.9" height="9.9" fill="none" stroke="#0000ff" stroke-width="1.45"/>
<rect x="596.51" y="184.9" width="9.9" height="9.9" fill="none" stroke="#0000ff" stroke-width="1.45"/>
<rect x="662.65" y="181.99" width="9.9" height="9.9" fill="none" stroke="#0000ff" stroke-width="1.45"/>
<rect x="710.31" y="180.64" width="9.9" height="9.9" fill="none" stroke="#0000ff" stroke-width="1.45"/>
<rect x="778.2" y="179.3" width="9.9" height="9.9" fill="none" stroke="#0000ff" stroke-width="1.45"/>
<path d="M124.45 42.68L127.76 44.88L131.07 47.09L134.38 49.31L137.69 51.54L141 53.79L144.31 56.05L147.62 58.31L150.93 60.6L154.24 62.89L157.55 65.19L160.86 67.5L164.17 69.83L167.48 72.17L170.79 74.54L174.1 76.93L177.41 79.32L180.72 81.73L184.03 84.14L187.34 86.55L190.65 88.95L193.96 91.34L197.27 93.73L200.58 96.15L203.89 98.57L207.2 101L210.51 103.4L213.82 105.77L217.13 108.09L220.44 110.36L223.75 112.58L227.06 114.76L230.37 116.92L233.68 119.03L236.99 121.1L240.3 123.11L243.61 125.06L246.92 126.98L250.23 128.88L253.54 130.78L256.85 132.64L260.16 134.48L263.47 136.28L266.78 138.03L270.09 139.72L273.4 141.35L276.71 142.91L280.02 144.39L283.33 145.79L286.64 147.1L289.95 148.36L293.26 149.56L296.57 150.71L299.88 151.83L303.19 152.93L306.5 154L309.81 155.07L313.12 156.14L316.43 157.22L319.74 158.3L323.05 159.37L326.36 160.42L329.67 161.44L332.98 162.42L336.29 163.35L339.6 164.22L342.91 165.04L346.22 165.82L349.53 166.58L352.85 167.3L356.16 167.98L359.47 168.61L362.78 169.21L366.09 169.77L369.4 170.31L372.71 170.83L376.02 171.33L379.33 171.81L382.64 172.27L385.95 172.71L389.26 173.15L392.57 173.56L395.88 173.97L399.19 174.37L402.5 174.75L405.81 175.13L409.12 175.49L412.43 175.85L415.74 176.19L419.05 176.52L422.36 176.84L425.67 177.15L428.98 177.44L432.29 177.72L435.6 177.99L438.91 178.24L442.22 178.49L445.53 178.73L448.84 178.96L452.15 179.19L455.46 179.4L458.77 179.61L462.08 179.81L465.39 180L468.7 180.19L472.01 180.37L475.32 180.54L478.63 180.71L481.94 180.88L485.25 181.03L488.56 181.17L491.87 181.31L495.18 181.43L498.49 181.56L501.8 181.67L505.11 181.79L508.42 181.9L511.73 182L515.04 182.1L518.35 182.2L521.66 182.3L524.97 182.39L528.28 182.47L531.59 182.56L534.9 182.63L538.21 182.71L541.52 182.78L544.83 182.86L548.14 182.93L551.45 183.01L554.76 183.08L558.07 183.15L561.38 183.22L564.69 183.29L568 183.35L571.31 183.42L574.62 183.48L577.93 183.53L581.24 183.58L584.55 183.63L587.86 183.68L591.17 183.72L594.48 183.75L597.79 183.78L601.1 183.8L604.41 183.82L607.72 183.83L611.03 183.85L614.34 183.86L617.65 183.88L620.96 183.89L624.27 183.9L627.58 183.91L630.89 183.92L634.2 183.93L637.51 183.94L640.82 183.94L644.13 183.95L647.44 183.96L650.75 183.97L654.06 183.98L657.37 183.99L660.68 184L663.99 184.01L667.3 184.02L670.61 184.04L673.92 184.06L677.23 184.07L680.54 184.09L683.85 184.11L687.16 184.14L690.47 184.16L693.78 184.18L697.09 184.19L700.4 184.21L703.71 184.23L707.02 184.24L710.33 184.25L713.64 184.25L716.95 184.25L720.26 184.25L723.57 184.25L726.88 184.25L730.19 184.25L733.5 184.25L736.81 184.25L740.12 184.25L743.43 184.25L746.74 184.25L750.05 184.25L753.36 184.25L756.67 184.25L759.98 184.25L763.29 184.25L766.6 184.25L769.91 184.25L773.22 184.25L776.53 184.25L779.84 184.25L783.15 184.25L797.5 184.25" stroke="#0000ff" stroke-width="1.42" stroke-dasharray="10.2 8.6"/>
<rect x="119.5" y="37.73" width="9.9" height="9.9" fill="none" stroke="#0000ff" stroke-width="1.45"/>
<rect x="157.89" y="63.94" width="9.9" height="9.9" fill="none" stroke="#0000ff" stroke-width="1.45"/>
<rect x="189.26" y="86.56" width="9.9" height="9.9" fill="none" stroke="#0000ff" stroke-width="1.45"/>
<rect x="215.78" y="105.6" width="9.9" height="9.9" fill="none" stroke="#0000ff" stroke-width="1.45"/>
<rect x="238.75" y="120.16" width="9.9" height="9.9" fill="none" stroke="#0000ff" stroke-width="1.45"/>
<rect x="277.14" y="140.32" width="9.9" height="9.9" fill="none" stroke="#0000ff" stroke-width="1.45"/>
<rect x="308.51" y="151.3" width="9.9" height="9.9" fill="none" stroke="#0000ff" stroke-width="1.45"/>
<rect x="335.03" y="159.36" width="9.9" height="9.9" fill="none" stroke="#0000ff" stroke-width="1.45"/>
<rect x="358.01" y="164.29" width="9.9" height="9.9" fill="none" stroke="#0000ff" stroke-width="1.45"/>
<rect x="396.4" y="169.67" width="9.9" height="9.9" fill="none" stroke="#0000ff" stroke-width="1.45"/>
<rect x="427.77" y="172.8" width="9.9" height="9.9" fill="none" stroke="#0000ff" stroke-width="1.45"/>
<rect x="460.32" y="175.04" width="9.9" height="9.9" fill="none" stroke="#0000ff" stroke-width="1.45"/>
<rect x="487.69" y="176.39" width="9.9" height="9.9" fill="none" stroke="#0000ff" stroke-width="1.45"/>
<rect x="532.05" y="177.73" width="9.9" height="9.9" fill="none" stroke="#0000ff" stroke-width="1.45"/>
<rect x="596.51" y="178.85" width="9.9" height="9.9" fill="none" stroke="#0000ff" stroke-width="1.45"/>
<rect x="662.65" y="179.08" width="9.9" height="9.9" fill="none" stroke="#0000ff" stroke-width="1.45"/>
<rect x="710.31" y="179.3" width="9.9" height="9.9" fill="none" stroke="#0000ff" stroke-width="1.45"/>
<rect x="778.2" y="179.3" width="9.9" height="9.9" fill="none" stroke="#0000ff" stroke-width="1.45"/>
</g>
<g clip-path="url(#cb)" fill="none">
<path d="M124.45 491.61L162.84 503.51L194.21 520.89L220.73 522.89L243.7 533.99L282.09 537.47L313.46 537.87L339.98 537.33L362.96 536.93L401.35 535.46L432.72 534.93L465.27 535.06L492.64 536.93L537 540.14L601.46 548.7L667.6 565.41L715.26 583.59L783.15 622.1" stroke="#000000" stroke-width="1.42" stroke-linejoin="round"/>
<path d="M119.5 486.66L129.4 496.56M119.5 496.56L129.4 486.66" fill="none" stroke="#000000" stroke-width="1.45"/>
<path d="M157.89 498.56L167.79 508.46M157.89 508.46L167.79 498.56" fill="none" stroke="#000000" stroke-width="1.45"/>
<path d="M189.26 515.94L199.16 525.84M189.26 525.84L199.16 515.94" fill="none" stroke="#000000" stroke-width="1.45"/>
<path d="M215.78 517.94L225.68 527.84M215.78 527.84L225.68 517.94" fill="none" stroke="#000000" stroke-width="1.45"/>
<path d="M238.75 529.04L248.65 538.94M238.75 538.94L248.65 529.04" fill="none" stroke="#000000" stroke-width="1.45"/>
<path d="M277.14 532.52L287.04 542.42M277.14 542.42L287.04 532.52" fill="none" stroke="#000000" stroke-width="1.45"/>
<path d="M308.51 532.92L318.41 542.82M308.51 542.82L318.41 532.92" fill="none" stroke="#000000" stroke-width="1.45"/>
<path d="M335.03 532.38L344.93 542.28M335.03 542.28L344.93 532.38" fill="none" stroke="#000000" stroke-width="1.45"/>
<path d="M358.01 531.98L367.91 541.88M358.01 541.88L367.91 531.98" fill="none" stroke="#000000" stroke-width="1.45"/>
<path d="M396.4 530.51L406.3 540.41M396.4 540.41L406.3 530.51" fill="none" stroke="#000000" stroke-width="1.45"/>
<path d="M427.77 529.98L437.67 539.88M427.77 539.88L437.67 529.98" fill="none" stroke="#000000" stroke-width="1.45"/>
<path d="M460.32 530.11L470.22 540.01M460.32 540.01L470.22 530.11" fill="none" stroke="#000000" stroke-width="1.45"/>
<path d="M487.69 531.98L497.59 541.88M487.69 541.88L497.59 531.98" fill="none" stroke="#000000" stroke-width="1.45"/>
<path d="M532.05 535.19L541.95 545.09M532.05 545.09L541.95 535.19" fill="none" stroke="#000000" stroke-width="1.45"/>
<path d="M596.51 543.75L606.41 553.65M596.51 553.65L606.41 543.75" fill="none" stroke="#000000" stroke-width="1.45"/>
<path d="M662.65 560.46L672.55 570.36M662.65 570.36L672.55 560.46" fill="none" stroke="#000000" stroke-width="1.45"/>
<path d="M710.31 578.64L720.21 588.54M710.31 588.54L720.21 578.64" fill="none" stroke="#000000" stroke-width="1.45"/>
<path d="M778.2 617.15L788.1 627.05M778.2 627.05L788.1 617.15" fill="none" stroke="#000000" stroke-width="1.45"/>
<path d="M124.45 494.55L162.84 505.51L194.21 522.23L220.73 523.83L243.7 534.53L282.09 537.73L313.46 537.97L339.98 537.33L362.96 536.93L401.35 535.46L432.72 534.93L465.27 535.06L492.64 536.93L537 540.14L601.46 548.7L667.6 565.41L715.26 583.59L783.15 622.1" stroke="#000000" stroke-width="1.42" stroke-linejoin="round"/>
<path d="M119.5 489.6L129.4 499.5M119.5 499.5L129.4 489.6" fill="none" stroke="#000000" stroke-width="1.45"/>
<path d="M157.89 500.56L167.79 510.46M157.89 510.46L167.79 500.56" fill="none" stroke="#000000" stroke-width="1.45"/>
<path d="M189.26 517.27L199.16 527.18M189.26 527.18L199.16 517.27" fill="none" stroke="#000000" stroke-width="1.45"/>
<path d="M215.78 518.88L225.68 528.78M215.78 528.78L225.68 518.88" fill="none" stroke="#000000" stroke-width="1.45"/>
<path d="M238.75 529.58L248.65 539.48M238.75 539.48L248.65 529.58" fill="none" stroke="#000000" stroke-width="1.45"/>
<path d="M277.14 532.78L287.04 542.68M277.14 542.68L287.04 532.78" fill="none" stroke="#000000" stroke-width="1.45"/>
<path d="M308.51 533.02L318.41 542.92M308.51 542.92L318.41 533.02" fill="none" stroke="#000000" stroke-width="1.45"/>
<path d="M335.03 532.38L344.93 542.28M335.03 542.28L344.93 532.38" fill="none" stroke="#000000" stroke-width="1.45"/>
<path d="M358.01 531.98L367.91 541.88M358.01 541.88L367.91 531.98" fill="none" stroke="#000000" stroke-width="1.45"/>
<path d="M396.4 530.51L406.3 540.41M396.4 540.41L406.3 530.51" fill="none" stroke="#000000" stroke-width="1.45"/>
<path d="M427.77 529.98L437.67 539.88M427.77 539.88L437.67 529.98" fill="none" stroke="#000000" stroke-width="1.45"/>
<path d="M460.32 530.11L470.22 540.01M460.32 540.01L470.22 530.11" fill="none" stroke="#000000" stroke-width="1.45"/>
<path d="M487.69 531.98L497.59 541.88M487.69 541.88L497.59 531.98" fill="none" stroke="#000000" stroke-width="1.45"/>
<path d="M532.05 535.19L541.95 545.09M532.05 545.09L541.95 535.19" fill="none" stroke="#000000" stroke-width="1.45"/>
<path d="M596.51 543.75L606.41 553.65M596.51 553.65L606.41 543.75" fill="none" stroke="#000000" stroke-width="1.45"/>
<path d="M662.65 560.46L672.55 570.36M662.65 570.36L672.55 560.46" fill="none" stroke="#000000" stroke-width="1.45"/>
<path d="M710.31 578.64L720.21 588.54M710.31 588.54L720.21 578.64" fill="none" stroke="#000000" stroke-width="1.45"/>
<path d="M778.2 617.15L788.1 627.05M778.2 627.05L788.1 617.15" fill="none" stroke="#000000" stroke-width="1.45"/>
<path d="M124.45 489.07L162.84 501.77L194.21 520.22L220.73 522.23L243.7 533.72L282.09 537.07L313.46 537.76L339.98 537.33L362.96 537.07L401.35 535.73L432.72 535.33L465.27 535.33L492.64 536.66L537 539.87L601.46 548.43L667.6 565.14L715.26 583.33L783.15 621.97" stroke="#ff0000" stroke-width="1.42" stroke-linejoin="round"/>
<path d="M119.5 489.07L124.45 484.12L129.4 489.07L124.45 494.02Z" fill="none" stroke="#ff0000" stroke-width="1.45"/>
<path d="M157.89 501.77L162.84 496.82L167.79 501.77L162.84 506.72Z" fill="none" stroke="#ff0000" stroke-width="1.45"/>
<path d="M189.26 520.22L194.21 515.27L199.16 520.22L194.21 525.17Z" fill="none" stroke="#ff0000" stroke-width="1.45"/>
<path d="M215.78 522.23L220.73 517.27L225.68 522.23L220.73 527.18Z" fill="none" stroke="#ff0000" stroke-width="1.45"/>
<path d="M238.75 533.72L243.7 528.77L248.65 533.72L243.7 538.67Z" fill="none" stroke="#ff0000" stroke-width="1.45"/>
<path d="M277.14 537.07L282.09 532.12L287.04 537.07L282.09 542.02Z" fill="none" stroke="#ff0000" stroke-width="1.45"/>
<path d="M308.51 537.76L313.46 532.81L318.41 537.76L313.46 542.71Z" fill="none" stroke="#ff0000" stroke-width="1.45"/>
<path d="M335.03 537.33L339.98 532.38L344.93 537.33L339.98 542.28Z" fill="none" stroke="#ff0000" stroke-width="1.45"/>
<path d="M358.01 537.07L362.96 532.12L367.91 537.07L362.96 542.02Z" fill="none" stroke="#ff0000" stroke-width="1.45"/>
<path d="M396.4 535.73L401.35 530.78L406.3 535.73L401.35 540.68Z" fill="none" stroke="#ff0000" stroke-width="1.45"/>
<path d="M427.77 535.33L432.72 530.38L437.67 535.33L432.72 540.28Z" fill="none" stroke="#ff0000" stroke-width="1.45"/>
<path d="M460.32 535.33L465.27 530.38L470.22 535.33L465.27 540.28Z" fill="none" stroke="#ff0000" stroke-width="1.45"/>
<path d="M487.69 536.66L492.64 531.71L497.59 536.66L492.64 541.61Z" fill="none" stroke="#ff0000" stroke-width="1.45"/>
<path d="M532.05 539.87L537 534.92L541.95 539.87L537 544.82Z" fill="none" stroke="#ff0000" stroke-width="1.45"/>
<path d="M596.51 548.43L601.46 543.48L606.41 548.43L601.46 553.38Z" fill="none" stroke="#ff0000" stroke-width="1.45"/>
<path d="M662.65 565.14L667.6 560.19L672.55 565.14L667.6 570.09Z" fill="none" stroke="#ff0000" stroke-width="1.45"/>
<path d="M710.31 583.33L715.26 578.38L720.21 583.33L715.26 588.28Z" fill="none" stroke="#ff0000" stroke-width="1.45"/>
<path d="M778.2 621.97L783.15 617.02L788.1 621.97L783.15 626.92Z" fill="none" stroke="#ff0000" stroke-width="1.45"/>
<path d="M124.45 499.23L162.84 507.65L194.21 523.56L220.73 524.9L243.7 535.06L282.09 537.6L313.46 537.97L339.98 537.33L362.96 537.07L401.35 535.73L432.72 535.33L465.27 535.33L492.64 536.66L537 539.87L601.46 548.43L667.6 565.14L715.26 583.33L783.15 621.97" stroke="#ff0000" stroke-width="1.42" stroke-linejoin="round"/>
<path d="M119.5 499.23L124.45 494.28L129.4 499.23L124.45 504.18Z" fill="none" stroke="#ff0000" stroke-width="1.45"/>
<path d="M157.89 507.65L162.84 502.7L167.79 507.65L162.84 512.6Z" fill="none" stroke="#ff0000" stroke-width="1.45"/>
<path d="M189.26 523.56L194.21 518.61L199.16 523.56L194.21 528.51Z" fill="none" stroke="#ff0000" stroke-width="1.45"/>
<path d="M215.78 524.9L220.73 519.95L225.68 524.9L220.73 529.85Z" fill="none" stroke="#ff0000" stroke-width="1.45"/>
<path d="M238.75 535.06L243.7 530.11L248.65 535.06L243.7 540.01Z" fill="none" stroke="#ff0000" stroke-width="1.45"/>
<path d="M277.14 537.6L282.09 532.65L287.04 537.6L282.09 542.55Z" fill="none" stroke="#ff0000" stroke-width="1.45"/>
<path d="M308.51 537.97L313.46 533.02L318.41 537.97L313.46 542.92Z" fill="none" stroke="#ff0000" stroke-width="1.45"/>
<path d="M335.03 537.33L339.98 532.38L344.93 537.33L339.98 542.28Z" fill="none" stroke="#ff0000" stroke-width="1.45"/>
<path d="M358.01 537.07L362.96 532.12L367.91 537.07L362.96 542.02Z" fill="none" stroke="#ff0000" stroke-width="1.45"/>
<path d="M396.4 535.73L401.35 530.78L406.3 535.73L401.35 540.68Z" fill="none" stroke="#ff0000" stroke-width="1.45"/>
<path d="M427.77 535.33L432.72 530.38L437.67 535.33L432.72 540.28Z" fill="none" stroke="#ff0000" stroke-width="1.45"/>
<path d="M460.32 535.33L465.27 530.38L470.22 535.33L465.27 540.28Z" fill="none" stroke="#ff0000" stroke-width="1.45"/>
<path d="M487.69 536.66L492.64 531.71L497.59 536.66L492.64 541.61Z" fill="none" stroke="#ff0000" stroke-width="1.45"/>
<path d="M532.05 539.87L537 534.92L541.95 539.87L537 544.82Z" fill="none" stroke="#ff0000" stroke-width="1.45"/>
<path d="M596.51 548.43L601.46 543.48L606.41 548.43L601.46 553.38Z" fill="none" stroke="#ff0000" stroke-width="1.45"/>
<path d="M662.65 565.14L667.6 560.19L672.55 565.14L667.6 570.09Z" fill="none" stroke="#ff0000" stroke-width="1.45"/>
<path d="M710.31 583.33L715.26 578.38L720.21 583.33L715.26 588.28Z" fill="none" stroke="#ff0000" stroke-width="1.45"/>
<path d="M778.2 621.97L783.15 617.02L788.1 621.97L783.15 626.92Z" fill="none" stroke="#ff0000" stroke-width="1.45"/>
<path d="M124.45 483.18L162.84 499.23L194.21 518.21L220.73 520.75L243.7 533.46L282.09 538.27L313.46 539.1L339.98 538.67L362.96 538.27L401.35 536.93L432.72 536.53L465.27 536.4L492.64 537.47L537 540.54L601.46 548.97L667.6 565.68L715.26 583.73L783.15 622.23" stroke="#00ff00" stroke-width="1.42" stroke-linejoin="round"/>
<path d="M119.5 487.29L124.45 478.33L129.4 487.29Z" fill="none" stroke="#00ff00" stroke-width="1.45" stroke-linejoin="miter"/>
<path d="M157.89 503.34L162.84 494.38L167.79 503.34Z" fill="none" stroke="#00ff00" stroke-width="1.45" stroke-linejoin="miter"/>
<path d="M189.26 522.32L194.21 513.36L199.16 522.32Z" fill="none" stroke="#00ff00" stroke-width="1.45" stroke-linejoin="miter"/>
<path d="M215.78 524.86L220.73 515.9L225.68 524.86Z" fill="none" stroke="#00ff00" stroke-width="1.45" stroke-linejoin="miter"/>
<path d="M238.75 537.56L243.7 528.6L248.65 537.56Z" fill="none" stroke="#00ff00" stroke-width="1.45" stroke-linejoin="miter"/>
<path d="M277.14 542.38L282.09 533.42L287.04 542.38Z" fill="none" stroke="#00ff00" stroke-width="1.45" stroke-linejoin="miter"/>
<path d="M308.51 543.21L313.46 534.25L318.41 543.21Z" fill="none" stroke="#00ff00" stroke-width="1.45" stroke-linejoin="miter"/>
<path d="M335.03 542.78L339.98 533.82L344.93 542.78Z" fill="none" stroke="#00ff00" stroke-width="1.45" stroke-linejoin="miter"/>
<path d="M358.01 542.38L362.96 533.42L367.91 542.38Z" fill="none" stroke="#00ff00" stroke-width="1.45" stroke-linejoin="miter"/>
<path d="M396.4 541.04L401.35 532.08L406.3 541.04Z" fill="none" stroke="#00ff00" stroke-width="1.45" stroke-linejoin="miter"/>
<path d="M427.77 540.64L432.72 531.68L437.67 540.64Z" fill="none" stroke="#00ff00" stroke-width="1.45" stroke-linejoin="miter"/>
<path d="M460.32 540.51L465.27 531.55L470.22 540.51Z" fill="none" stroke="#00ff00" stroke-width="1.45" stroke-linejoin="miter"/>
<path d="M487.69 541.58L492.64 532.62L497.59 541.58Z" fill="none" stroke="#00ff00" stroke-width="1.45" stroke-linejoin="miter"/>
<path d="M532.05 544.65L537 535.69L541.95 544.65Z" fill="none" stroke="#00ff00" stroke-width="1.45" stroke-linejoin="miter"/>
<path d="M596.51 553.07L601.46 544.11L606.41 553.07Z" fill="none" stroke="#00ff00" stroke-width="1.45" stroke-linejoin="miter"/>
<path d="M662.65 569.79L667.6 560.83L672.55 569.79Z" fill="none" stroke="#00ff00" stroke-width="1.45" stroke-linejoin="miter"/>
<path d="M710.31 587.84L715.26 578.88L720.21 587.84Z" fill="none" stroke="#00ff00" stroke-width="1.45" stroke-linejoin="miter"/>
<path d="M778.2 626.34L783.15 617.38L788.1 626.34Z" fill="none" stroke="#00ff00" stroke-width="1.45" stroke-linejoin="miter"/>
<path d="M124.45 505.91L162.84 513.13L194.21 527.84L220.73 528.64L243.7 536.66L282.09 539.34L313.46 539.53L339.98 538.67L362.96 538.27L401.35 536.93L432.72 536.53L465.27 536.4L492.64 537.47L537 540.54L601.46 548.97L667.6 565.68L715.26 583.73L783.15 622.23" stroke="#00ff00" stroke-width="1.42" stroke-linejoin="round"/>
<path d="M119.5 510.02L124.45 501.06L129.4 510.02Z" fill="none" stroke="#00ff00" stroke-width="1.45" stroke-linejoin="miter"/>
<path d="M157.89 517.24L162.84 508.28L167.79 517.24Z" fill="none" stroke="#00ff00" stroke-width="1.45" stroke-linejoin="miter"/>
<path d="M189.26 531.95L194.21 522.99L199.16 531.95Z" fill="none" stroke="#00ff00" stroke-width="1.45" stroke-linejoin="miter"/>
<path d="M215.78 532.75L220.73 523.79L225.68 532.75Z" fill="none" stroke="#00ff00" stroke-width="1.45" stroke-linejoin="miter"/>
<path d="M238.75 540.77L243.7 531.81L248.65 540.77Z" fill="none" stroke="#00ff00" stroke-width="1.45" stroke-linejoin="miter"/>
<path d="M277.14 543.45L282.09 534.49L287.04 543.45Z" fill="none" stroke="#00ff00" stroke-width="1.45" stroke-linejoin="miter"/>
<path d="M308.51 543.63L313.46 534.67L318.41 543.63Z" fill="none" stroke="#00ff00" stroke-width="1.45" stroke-linejoin="miter"/>
<path d="M335.03 542.78L339.98 533.82L344.93 542.78Z" fill="none" stroke="#00ff00" stroke-width="1.45" stroke-linejoin="miter"/>
<path d="M358.01 542.38L362.96 533.42L367.91 542.38Z" fill="none" stroke="#00ff00" stroke-width="1.45" stroke-linejoin="miter"/>
<path d="M396.4 541.04L401.35 532.08L406.3 541.04Z" fill="none" stroke="#00ff00" stroke-width="1.45" stroke-linejoin="miter"/>
<path d="M427.77 540.64L432.72 531.68L437.67 540.64Z" fill="none" stroke="#00ff00" stroke-width="1.45" stroke-linejoin="miter"/>
<path d="M460.32 540.51L465.27 531.55L470.22 540.51Z" fill="none" stroke="#00ff00" stroke-width="1.45" stroke-linejoin="miter"/>
<path d="M487.69 541.58L492.64 532.62L497.59 541.58Z" fill="none" stroke="#00ff00" stroke-width="1.45" stroke-linejoin="miter"/>
<path d="M532.05 544.65L537 535.69L541.95 544.65Z" fill="none" stroke="#00ff00" stroke-width="1.45" stroke-linejoin="miter"/>
<path d="M596.51 553.07L601.46 544.11L606.41 553.07Z" fill="none" stroke="#00ff00" stroke-width="1.45" stroke-linejoin="miter"/>
<path d="M662.65 569.79L667.6 560.83L672.55 569.79Z" fill="none" stroke="#00ff00" stroke-width="1.45" stroke-linejoin="miter"/>
<path d="M710.31 587.84L715.26 578.88L720.21 587.84Z" fill="none" stroke="#00ff00" stroke-width="1.45" stroke-linejoin="miter"/>
<path d="M778.2 626.34L783.15 617.38L788.1 626.34Z" fill="none" stroke="#00ff00" stroke-width="1.45" stroke-linejoin="miter"/>
<path d="M124.45 477.03L162.84 494.15L194.21 516.07L220.73 519.42L243.7 532.39L282.09 537.87L313.46 539.58L339.98 539.74L362.96 539.34L401.35 537.87L432.72 537.33L465.27 537.2L492.64 538L537 540.94L601.46 549.37L667.6 565.94L715.26 583.99L783.15 622.5" stroke="#0000ff" stroke-width="1.42" stroke-linejoin="round"/>
<rect x="119.5" y="472.08" width="9.9" height="9.9" fill="none" stroke="#0000ff" stroke-width="1.45"/>
<rect x="157.89" y="489.2" width="9.9" height="9.9" fill="none" stroke="#0000ff" stroke-width="1.45"/>
<rect x="189.26" y="511.12" width="9.9" height="9.9" fill="none" stroke="#0000ff" stroke-width="1.45"/>
<rect x="215.78" y="514.47" width="9.9" height="9.9" fill="none" stroke="#0000ff" stroke-width="1.45"/>
<rect x="238.75" y="527.44" width="9.9" height="9.9" fill="none" stroke="#0000ff" stroke-width="1.45"/>
<rect x="277.14" y="532.92" width="9.9" height="9.9" fill="none" stroke="#0000ff" stroke-width="1.45"/>
<rect x="308.51" y="534.63" width="9.9" height="9.9" fill="none" stroke="#0000ff" stroke-width="1.45"/>
<rect x="335.03" y="534.79" width="9.9" height="9.9" fill="none" stroke="#0000ff" stroke-width="1.45"/>
<rect x="358.01" y="534.39" width="9.9" height="9.9" fill="none" stroke="#0000ff" stroke-width="1.45"/>
<rect x="396.4" y="532.92" width="9.9" height="9.9" fill="none" stroke="#0000ff" stroke-width="1.45"/>
<rect x="427.77" y="532.38" width="9.9" height="9.9" fill="none" stroke="#0000ff" stroke-width="1.45"/>
<rect x="460.32" y="532.25" width="9.9" height="9.9" fill="none" stroke="#0000ff" stroke-width="1.45"/>
<rect x="487.69" y="533.05" width="9.9" height="9.9" fill="none" stroke="#0000ff" stroke-width="1.45"/>
<rect x="532.05" y="535.99" width="9.9" height="9.9" fill="none" stroke="#0000ff" stroke-width="1.45"/>
<rect x="596.51" y="544.42" width="9.9" height="9.9" fill="none" stroke="#0000ff" stroke-width="1.45"/>
<rect x="662.65" y="560.99" width="9.9" height="9.9" fill="none" stroke="#0000ff" stroke-width="1.45"/>
<rect x="710.31" y="579.04" width="9.9" height="9.9" fill="none" stroke="#0000ff" stroke-width="1.45"/>
<rect x="778.2" y="617.55" width="9.9" height="9.9" fill="none" stroke="#0000ff" stroke-width="1.45"/>
<path d="M124.45 513.13L162.84 519.42L194.21 531.18L220.73 531.18L243.7 538.27L282.09 541.34L313.46 540.97L339.98 539.74L362.96 539.34L401.35 537.87L432.72 537.33L465.27 537.2L492.64 538L537 540.94L601.46 549.37L667.6 565.94L715.26 583.99L783.15 622.5" stroke="#0000ff" stroke-width="1.42" stroke-linejoin="round"/>
<rect x="119.5" y="508.18" width="9.9" height="9.9" fill="none" stroke="#0000ff" stroke-width="1.45"/>
<rect x="157.89" y="514.47" width="9.9" height="9.9" fill="none" stroke="#0000ff" stroke-width="1.45"/>
<rect x="189.26" y="526.23" width="9.9" height="9.9" fill="none" stroke="#0000ff" stroke-width="1.45"/>
<rect x="215.78" y="526.23" width="9.9" height="9.9" fill="none" stroke="#0000ff" stroke-width="1.45"/>
<rect x="238.75" y="533.32" width="9.9" height="9.9" fill="none" stroke="#0000ff" stroke-width="1.45"/>
<rect x="277.14" y="536.39" width="9.9" height="9.9" fill="none" stroke="#0000ff" stroke-width="1.45"/>
<rect x="308.51" y="536.02" width="9.9" height="9.9" fill="none" stroke="#0000ff" stroke-width="1.45"/>
<rect x="335.03" y="534.79" width="9.9" height="9.9" fill="none" stroke="#0000ff" stroke-width="1.45"/>
<rect x="358.01" y="534.39" width="9.9" height="9.9" fill="none" stroke="#0000ff" stroke-width="1.45"/>
<rect x="396.4" y="532.92" width="9.9" height="9.9" fill="none" stroke="#0000ff" stroke-width="1.45"/>
<rect x="427.77" y="532.38" width="9.9" height="9.9" fill="none" stroke="#0000ff" stroke-width="1.45"/>
<rect x="460.32" y="532.25" width="9.9" height="9.9" fill="none" stroke="#0000ff" stroke-width="1.45"/>
<rect x="487.69" y="533.05" width="9.9" height="9.9" fill="none" stroke="#0000ff" stroke-width="1.45"/>
<rect x="532.05" y="535.99" width="9.9" height="9.9" fill="none" stroke="#0000ff" stroke-width="1.45"/>
<rect x="596.51" y="544.42" width="9.9" height="9.9" fill="none" stroke="#0000ff" stroke-width="1.45"/>
<rect x="662.65" y="560.99" width="9.9" height="9.9" fill="none" stroke="#0000ff" stroke-width="1.45"/>
<rect x="710.31" y="579.04" width="9.9" height="9.9" fill="none" stroke="#0000ff" stroke-width="1.45"/>
<rect x="778.2" y="617.55" width="9.9" height="9.9" fill="none" stroke="#0000ff" stroke-width="1.45"/>
</g>
<path transform="translate(63.61 81.75) scale(1.0037 1.0371) scale(27.5 -27.5) translate(0.0000 0)" d="M.359 0L.271 0L.271 .505L.101 .505L.101 .568C.19 .572 .262 .6 .297 .703L.359 .703Z" fill="#000"/>
<text transform="translate(63.61 81.75) scale(1.0037 1.0371)" font-size="27.5"><tspan style="fill:none">1</tspan>.05</text>
<path transform="translate(63.62 193.75) scale(1.0023 1.0371) scale(27.5 -27.5) translate(0.0000 0)" d="M.359 0L.271 0L.271 .505L.101 .505L.101 .568C.19 .572 .262 .6 .297 .703L.359 .703Z" fill="#000"/>
<text transform="translate(63.62 193.75) scale(1.0023 1.0371)" font-size="27.5"><tspan style="fill:none">1</tspan>.00</text>
<text transform="translate(63.75 305.75) scale(1.0011 1.0635)" font-size="27.5">0.95</text>
<path transform="translate(79.12 437.9) scale(1.0023 1.0371) scale(27.5 -27.5) translate(0.0000 0)" d="M.359 0L.271 0L.271 .505L.101 .505L.101 .568C.19 .572 .262 .6 .297 .703L.359 .703Z" fill="#000"/>
<text transform="translate(79.12 437.9) scale(1.0023 1.0371)" font-size="27.5"><tspan style="fill:none">1</tspan>.5</text>
<path transform="translate(79.12 498.2) scale(1.0003 1.0371) scale(27.5 -27.5) translate(0.0000 0)" d="M.359 0L.271 0L.271 .505L.101 .505L.101 .568C.19 .572 .262 .6 .297 .703L.359 .703Z" fill="#000"/>
<text transform="translate(79.12 498.2) scale(1.0003 1.0371)" font-size="27.5"><tspan style="fill:none">1</tspan>.0</text>
<text transform="translate(78.84 565.2) scale(1.0098 1.0635)" font-size="27.5">0.5</text>
<text transform="translate(78.84 622.8) scale(1.0078 1.0635)" font-size="27.5">0.0</text>
<path transform="translate(116.29 656.95) scale(1.0853 1.0371) scale(27.5 -27.5) translate(0.0000 0)" d="M.359 0L.271 0L.271 .505L.101 .505L.101 .568C.19 .572 .262 .6 .297 .703L.359 .703Z" fill="#000"/>
<text transform="translate(116.29 656.95) scale(1.0853 1.0371)" font-size="27.5"><tspan style="fill:none">1</tspan></text>
<path transform="translate(504.88 657) scale(1.0169 1.0371) scale(27.5 -27.5) translate(0.0000 0)" d="M.359 0L.271 0L.271 .505L.101 .505L.101 .568C.19 .572 .262 .6 .297 .703L.359 .703Z" fill="#000"/>
<text transform="translate(504.88 657) scale(1.0169 1.0371)" font-size="27.5"><tspan style="fill:none">1</tspan>0</text>
<path transform="translate(437.79 686.4) scale(1.0134 1.0371) scale(27.5 -27.5) translate(0.0000 0)" d="M.359 0L.271 0L.271 .505L.101 .505L.101 .568C.19 .572 .262 .6 .297 .703L.359 .703Z" fill="#000"/>
<text transform="translate(437.79 686.4) scale(1.0134 1.0371)" font-size="27.5"><tspan style="fill:none">1</tspan>+z</text>
<text transform="translate(42.5 297.1) rotate(-90) translate(-2.16 0) scale(0.9513 1.0314)" font-size="27.5">D</text>
<text transform="translate(42.5 297.1) rotate(-90) translate(16.73 8.4) scale(1.0188 1.0600)" font-size="17.0">+</text>
<text transform="translate(42.5 297.1) rotate(-90) translate(26.7 0) scale(0.9435 1.0600)" font-size="27.5">/</text>
<text transform="translate(42.5 297.1) rotate(-90) translate(34.98 0) scale(0.9329 1.0314)" font-size="27.5">D</text>
<text transform="translate(42.5 297.1) rotate(-90) translate(53.96 8.4) scale(0.9824 1.0600)" font-size="17.0">+</text>
<text transform="translate(42.5 297.1) rotate(-90) translate(63.38 0) scale(0.9420 1.0500)" font-size="27.5">(</text>
<text transform="translate(42.5 297.1) rotate(-90) translate(73.65 0) scale(0.8975 1.0634)" font-size="27.5" class="g">Λ</text>
<text transform="translate(42.5 297.1) rotate(-90) translate(91.93 0) scale(0.9937 1.0375)" font-size="27.5">CDM</text>
<text transform="translate(42.5 297.1) rotate(-90) translate(154.6 0) scale(0.9558 1.0500)" font-size="27.5">)</text>
<path transform="translate(58 631.95) rotate(-90) translate(-2.73 0) scale(0.9812 1.0371) scale(27.5 -27.5) translate(0.0000 0)" d="M.359 0L.271 0L.271 .505L.101 .505L.101 .568C.19 .572 .262 .6 .297 .703L.359 .703Z" fill="#000"/>
<text transform="translate(58 631.95) rotate(-90) translate(-2.73 0) scale(0.9812 1.0371)" font-size="27.5"><tspan style="fill:none">1</tspan>00x</text>
<text transform="translate(58 631.95) rotate(-90) translate(56.98 0) scale(1.0000 1.0600)" font-size="27.5">|</text>
<text transform="translate(58 631.95) rotate(-90) translate(64.37 0) scale(0.9605 1.0579)" font-size="27.5">D</text>
<text transform="translate(58 631.95) rotate(-90) translate(84.23 8.6) scale(0.9703 1.0600)" font-size="17.0">+</text>
<text transform="translate(58 631.95) rotate(-90) translate(84.3 -12.05) scale(0.9855 1.0629)" font-size="17.0">Sim</text>
<text transform="translate(58 631.95) rotate(-90) translate(112.99 1.4) scale(0.9747 1.0000)" font-size="27.5">-</text>
<text transform="translate(58 631.95) rotate(-90) translate(122.04 0) scale(0.9758 1.0579)" font-size="27.5">D</text>
<text transform="translate(58 631.95) rotate(-90) translate(142.23 8.6) scale(0.9642 1.0600)" font-size="17.0">+</text>
<text transform="translate(58 631.95) rotate(-90) translate(141.81 -12.05) scale(0.9946 1.0426)" font-size="17.0">Lin</text>
<text transform="translate(58 631.95) rotate(-90) translate(164.62 0) scale(1.0000 1.0600)" font-size="27.5">|</text>
<text transform="translate(58 631.95) rotate(-90) translate(171.25 0) scale(1.0483 1.0600)" font-size="27.5">/</text>
<text transform="translate(58 631.95) rotate(-90) translate(179.48 0) scale(0.9544 1.0579)" font-size="27.5">D</text>
<text transform="translate(58 631.95) rotate(-90) translate(199.25 8.6) scale(0.9460 1.0600)" font-size="17.0">+</text>
<text transform="translate(58 631.95) rotate(-90) translate(199.05 -12.05) scale(0.9970 1.0426)" font-size="17.0">Lin</text>
<text transform="translate(579 73) scale(0.9941 1.0427)" font-size="27.5">w=-0.9</text>
<path transform="translate(579 95) scale(0.9925 0.9983) scale(27.5 -27.5) translate(1.6392 0)" d="M.359 0L.271 0L.271 .505L.101 .505L.101 .568C.19 .572 .262 .6 .297 .703L.359 .703Z" fill="#000"/>
<path transform="translate(579 95) scale(0.9925 0.9983) scale(27.5 -27.5) translate(2.4732 0)" d="M.359 0L.271 0L.271 .505L.101 .505L.101 .568C.19 .572 .262 .6 .297 .703L.359 .703Z" fill="#000"/>
<text transform="translate(579 95) scale(0.9925 0.9983)" font-size="27.5">w=-<tspan style="fill:none">1</tspan>.<tspan style="fill:none">1</tspan></text>
<line x1="675.3" y1="67.2" x2="761.75" y2="67.2" stroke="#000000" stroke-width="1.2" />
<line x1="675.3" y1="90.1" x2="761.75" y2="90.1" stroke="#000000" stroke-width="1.2" stroke-dasharray="9.5 8.97"/>
<text transform="translate(645.84 229.35) scale(0.9542 1.0441)" font-size="27.5" class="g">Λ</text>
<text transform="translate(664.6 229.35) scale(1.0175 1.0192)" font-size="27.5">CDM</text>
<line x1="738.7" y1="221.4" x2="754.2" y2="221.4" stroke="#000000" stroke-width="1.2" />
<text transform="translate(714.09 262.2) scale(1.0129 1.0375)" font-size="27.5" style="fill:#000000">0</text>
<text transform="translate(690.35 263.4) scale(1.0572 0.9500)" font-size="27.5" style="fill:#000000">=</text>
<text transform="translate(669.1 262.2) scale(1.2137 1.0909)" font-size="27.5" class="g" style="fill:#000000">ξ</text>
<path d="M739 246.55L753.6 261.15M739 261.15L753.6 246.55" fill="none" stroke="#000000" stroke-width="1.15"/>
<path transform="translate(700.87 294.5) scale(0.9832 1.0138) scale(27.5 -27.5) translate(0.0000 0)" d="M.359 0L.271 0L.271 .505L.101 .505L.101 .568C.19 .572 .262 .6 .297 .703L.359 .703Z" fill="#ff0000"/>
<text transform="translate(700.87 294.5) scale(0.9832 1.0138)" font-size="27.5" style="fill:#ff0000"><tspan style="fill:none">1</tspan>0</text>
<text transform="translate(676.45 295.7) scale(1.0572 0.9500)" font-size="27.5" style="fill:#ff0000">=</text>
<text transform="translate(654.7 294.5) scale(1.2137 1.0909)" font-size="27.5" class="g" style="fill:#ff0000">ξ</text>
<path d="M739.1 286.5L746.3 279.3L753.5 286.5L746.3 293.7Z" fill="none" stroke="#ff0000" stroke-width="1.15"/>
<text transform="translate(700.89 327) scale(0.9826 1.0375)" font-size="27.5" style="fill:#00ff00">30</text>
<text transform="translate(676.45 328.2) scale(1.0572 0.9500)" font-size="27.5" style="fill:#00ff00">=</text>
<text transform="translate(654.7 327) scale(1.2137 1.0909)" font-size="27.5" class="g" style="fill:#00ff00">ξ</text>
<path d="M739 325.9L746.2 312.4L753.4 325.9Z" fill="none" stroke="#00ff00" stroke-width="1.15"/>
<text transform="translate(700.82 359.5) scale(0.9850 1.0375)" font-size="27.5" style="fill:#0000ff">50</text>
<text transform="translate(676.45 360.7) scale(1.0572 0.9500)" font-size="27.5" style="fill:#0000ff">=</text>
<text transform="translate(654.7 359.5) scale(1.2137 1.0909)" font-size="27.5" class="g" style="fill:#0000ff">ξ</text>
<rect x="739" y="343.85" width="14.6" height="14.6" fill="none" stroke="#0000ff" stroke-width="1.15"/>
</svg></body></html>
